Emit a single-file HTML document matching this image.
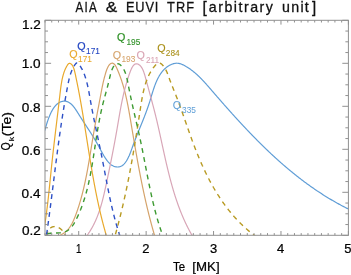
<!DOCTYPE html>
<html><head><meta charset="utf-8"><title>AIA &amp; EUVI TRF</title>
<style>html,body{margin:0;padding:0;background:#fff;overflow:hidden}svg{display:block}</style>
</head><body>
<svg xmlns="http://www.w3.org/2000/svg" width="351" height="275" viewBox="0 0 351 275">
<rect width="351" height="275" fill="#fff"/>
<defs><clipPath id="c"><rect x="45" y="20" width="303.5" height="215.2"/></clipPath></defs>
<g fill="none" stroke-linecap="butt" stroke-linejoin="round" clip-path="url(#c)">
<path d="M44.72,130.70 L44.81,130.38 L44.91,130.05 L45.01,129.70 L45.11,129.35 L45.22,128.98 L45.33,128.61 L45.44,128.22 L45.55,127.83 L45.67,127.43 L45.79,127.02 L45.91,126.60 L46.03,126.17 L46.16,125.74 L46.29,125.30 L46.42,124.85 L46.56,124.40 L46.70,123.94 L46.85,123.47 L46.99,123.01 L47.14,122.53 L47.30,122.06 L47.45,121.57 L47.61,121.09 L47.78,120.60 L47.95,120.12 L48.12,119.62 L48.29,119.13 L48.47,118.64 L48.66,118.14 L48.84,117.65 L49.03,117.15 L49.23,116.66 L49.43,116.16 L49.63,115.67 L49.84,115.18 L50.05,114.69 L50.27,114.20 L50.49,113.72 L50.71,113.24 L50.94,112.76 L51.18,112.29 L51.41,111.82 L51.66,111.36 L51.91,110.90 L52.16,110.44 L52.42,110.00 L52.68,109.55 L52.94,109.12 L53.22,108.69 L53.49,108.27 L53.78,107.86 L54.06,107.46 L54.36,107.06 L54.65,106.68 L54.96,106.30 L55.27,105.94 L55.58,105.58 L55.90,105.23 L56.22,104.90 L56.55,104.58 L56.89,104.27 L57.23,103.97 L57.58,103.68 L57.93,103.41 L58.29,103.15 L58.66,102.91 L59.03,102.68 L59.41,102.46 L59.79,102.26 L60.18,102.08 L60.57,101.91 L60.98,101.75 L61.38,101.62 L61.80,101.50 L62.22,101.40 L62.65,101.31 L63.08,101.25 L63.51,101.20 L63.95,101.17 L64.39,101.17 L64.83,101.18 L65.27,101.21 L65.70,101.26 L66.13,101.34 L66.56,101.43 L66.97,101.55 L67.38,101.69 L67.78,101.85 L68.18,102.02 L68.57,102.22 L68.96,102.43 L69.33,102.66 L69.71,102.91 L70.07,103.17 L70.44,103.45 L70.79,103.74 L71.15,104.04 L71.49,104.36 L71.84,104.70 L72.17,105.04 L72.51,105.39 L72.84,105.76 L73.16,106.14 L73.48,106.52 L73.80,106.91 L74.11,107.32 L74.42,107.73 L74.73,108.14 L75.03,108.56 L75.33,108.99 L75.62,109.42 L75.92,109.86 L76.21,110.30 L76.50,110.74 L76.78,111.18 L77.07,111.63 L77.35,112.08 L77.63,112.52 L77.91,112.97 L78.18,113.41 L78.46,113.86 L78.73,114.30 L79.00,114.73 L79.27,115.17 L79.54,115.60 L79.81,116.03 L80.08,116.45 L80.35,116.87 L80.61,117.29 L80.87,117.70 L81.14,118.12 L81.40,118.53 L81.66,118.94 L81.92,119.34 L82.18,119.74 L82.44,120.14 L82.70,120.54 L82.95,120.94 L83.21,121.33 L83.46,121.72 L83.72,122.11 L83.97,122.50 L84.22,122.89 L84.47,123.27 L84.72,123.66 L84.97,124.04 L85.22,124.42 L85.47,124.80 L85.72,125.18 L85.97,125.55 L86.22,125.93 L86.46,126.31 L86.71,126.68 L86.95,127.05 L87.20,127.43 L87.44,127.80 L87.68,128.17 L87.93,128.54 L88.17,128.91 L88.41,129.29 L88.65,129.66 L88.90,130.03 L89.14,130.40 L89.38,130.77 L89.62,131.14 L89.86,131.51 L90.10,131.89 L90.34,132.26 L90.58,132.63 L90.82,133.01 L91.05,133.38 L91.29,133.76 L91.53,134.13 L91.77,134.51 L92.01,134.89 L92.25,135.27 L92.48,135.65 L92.72,136.03 L92.96,136.42 L93.20,136.80 L93.44,137.19 L93.67,137.58 L93.91,137.97 L94.15,138.36 L94.39,138.76 L94.63,139.15 L94.87,139.55 L95.10,139.95 L95.34,140.36 L95.58,140.76 L95.82,141.17 L96.06,141.58 L96.30,142.00 L96.54,142.41 L96.78,142.83 L97.02,143.26 L97.26,143.68 L97.50,144.11 L97.74,144.54 L97.99,144.98 L98.23,145.42 L98.47,145.86 L98.71,146.31 L98.96,146.76 L99.20,147.21 L99.45,147.67 L99.69,148.13 L99.94,148.59 L100.19,149.05 L100.43,149.52 L100.68,149.99 L100.93,150.46 L101.18,150.93 L101.44,151.40 L101.69,151.87 L101.95,152.34 L102.20,152.81 L102.46,153.28 L102.72,153.74 L102.99,154.21 L103.25,154.67 L103.52,155.13 L103.78,155.59 L104.05,156.04 L104.33,156.49 L104.60,156.94 L104.88,157.38 L105.16,157.81 L105.44,158.24 L105.73,158.67 L106.02,159.09 L106.31,159.50 L106.60,159.90 L106.90,160.30 L107.20,160.69 L107.50,161.08 L107.81,161.45 L108.12,161.82 L108.43,162.17 L108.75,162.52 L109.07,162.85 L109.40,163.18 L109.72,163.50 L110.06,163.80 L110.39,164.10 L110.73,164.38 L111.08,164.65 L111.43,164.90 L111.78,165.15 L112.14,165.38 L112.50,165.59 L112.87,165.80 L113.24,165.98 L113.62,166.16 L114.00,166.32 L114.39,166.46 L114.78,166.58 L115.18,166.69 L115.58,166.79 L115.99,166.86 L116.40,166.92 L116.81,166.96 L117.21,166.99 L117.62,166.99 L118.03,166.98 L118.42,166.95 L118.82,166.90 L119.20,166.83 L119.58,166.75 L119.96,166.64 L120.32,166.52 L120.68,166.38 L121.03,166.23 L121.38,166.06 L121.72,165.87 L122.05,165.67 L122.38,165.45 L122.70,165.21 L123.02,164.97 L123.32,164.70 L123.63,164.43 L123.93,164.14 L124.22,163.84 L124.51,163.52 L124.79,163.19 L125.07,162.85 L125.34,162.50 L125.61,162.14 L125.87,161.77 L126.13,161.39 L126.39,161.00 L126.64,160.60 L126.89,160.18 L127.13,159.77 L127.37,159.34 L127.60,158.90 L127.83,158.46 L128.06,158.01 L128.29,157.55 L128.51,157.09 L128.73,156.62 L128.94,156.14 L129.16,155.66 L129.36,155.18 L129.57,154.69 L129.78,154.19 L129.98,153.70 L130.18,153.20 L130.38,152.69 L130.58,152.19 L130.77,151.68 L130.96,151.17 L131.15,150.66 L131.34,150.14 L131.53,149.63 L131.72,149.12 L131.91,148.60 L132.09,148.09 L132.28,147.58 L132.46,147.07 L132.64,146.56 L132.83,146.05 L133.01,145.55 L133.19,145.05 L133.37,144.55 L133.55,144.05 L133.74,143.56 L133.92,143.07 L134.10,142.58 L134.28,142.10 L134.46,141.62 L134.64,141.14 L134.82,140.66 L135.00,140.19 L135.18,139.72 L135.36,139.25 L135.54,138.78 L135.72,138.31 L135.90,137.85 L136.08,137.39 L136.26,136.93 L136.44,136.48 L136.62,136.02 L136.80,135.57 L136.97,135.12 L137.15,134.67 L137.33,134.23 L137.51,133.78 L137.68,133.34 L137.86,132.90 L138.04,132.46 L138.21,132.02 L138.39,131.58 L138.57,131.14 L138.74,130.71 L138.92,130.28 L139.09,129.85 L139.27,129.41 L139.44,128.99 L139.61,128.56 L139.79,128.13 L139.96,127.70 L140.13,127.28 L140.31,126.86 L140.48,126.43 L140.65,126.01 L140.82,125.59 L140.99,125.17 L141.16,124.75 L141.33,124.33 L141.50,123.91 L141.67,123.49 L141.84,123.07 L142.01,122.65 L142.18,122.24 L142.35,121.82 L142.52,121.40 L142.68,120.98 L142.85,120.57 L143.02,120.15 L143.18,119.73 L143.35,119.32 L143.52,118.90 L143.68,118.48 L143.84,118.07 L144.01,117.65 L144.17,117.23 L144.34,116.82 L144.50,116.40 L144.66,115.98 L144.82,115.56 L144.98,115.14 L145.15,114.72 L145.31,114.30 L145.47,113.88 L145.63,113.45 L145.78,113.03 L145.94,112.61 L146.10,112.18 L146.26,111.76 L146.42,111.33 L146.57,110.90 L146.73,110.47 L146.88,110.04 L147.04,109.61 L147.19,109.18 L147.35,108.74 L147.50,108.31 L147.65,107.87 L147.81,107.43 L147.96,106.99 L148.11,106.55 L148.26,106.11 L148.41,105.66 L148.56,105.22 L148.71,104.77 L148.86,104.32 L149.00,103.87 L149.15,103.41 L149.30,102.96 L149.44,102.50 L149.59,102.04 L149.73,101.57 L149.88,101.11 L150.02,100.64 L150.17,100.18 L150.31,99.71 L150.45,99.24 L150.60,98.76 L150.74,98.29 L150.88,97.81 L151.03,97.34 L151.17,96.86 L151.31,96.38 L151.46,95.90 L151.60,95.42 L151.75,94.94 L151.89,94.46 L152.04,93.98 L152.19,93.50 L152.34,93.02 L152.48,92.54 L152.63,92.05 L152.79,91.57 L152.94,91.09 L153.09,90.61 L153.25,90.13 L153.40,89.65 L153.56,89.17 L153.72,88.69 L153.88,88.22 L154.05,87.74 L154.21,87.26 L154.38,86.79 L154.55,86.32 L154.72,85.85 L154.89,85.38 L155.07,84.91 L155.24,84.44 L155.42,83.98 L155.61,83.52 L155.79,83.06 L155.98,82.60 L156.17,82.14 L156.36,81.69 L156.56,81.24 L156.76,80.79 L156.96,80.34 L157.16,79.90 L157.37,79.46 L157.58,79.03 L157.80,78.59 L158.02,78.16 L158.24,77.74 L158.46,77.31 L158.69,76.89 L158.93,76.48 L159.16,76.06 L159.40,75.66 L159.65,75.25 L159.90,74.85 L160.15,74.46 L160.40,74.07 L160.67,73.68 L160.93,73.30 L161.20,72.92 L161.48,72.55 L161.75,72.18 L162.04,71.81 L162.33,71.46 L162.62,71.10 L162.92,70.76 L163.22,70.41 L163.53,70.08 L163.84,69.75 L164.16,69.42 L164.49,69.10 L164.82,68.79 L165.15,68.48 L165.49,68.18 L165.84,67.89 L166.19,67.60 L166.55,67.32 L166.91,67.04 L167.28,66.77 L167.66,66.51 L168.04,66.26 L168.43,66.01 L168.82,65.77 L169.22,65.54 L169.63,65.31 L170.05,65.09 L170.47,64.88 L170.89,64.68 L171.32,64.49 L171.76,64.31 L172.20,64.14 L172.64,63.98 L173.09,63.83 L173.54,63.70 L174.00,63.58 L174.45,63.48 L174.91,63.39 L175.37,63.32 L175.83,63.27 L176.29,63.24 L176.75,63.22 L177.21,63.23 L177.67,63.25 L178.13,63.30 L178.58,63.36 L179.04,63.44 L179.49,63.55 L179.95,63.66 L180.40,63.80 L180.85,63.94 L181.29,64.10 L181.74,64.28 L182.18,64.46 L182.62,64.66 L183.06,64.86 L183.50,65.07 L183.93,65.29 L184.36,65.52 L184.79,65.76 L185.21,65.99 L185.64,66.23 L186.05,66.48 L186.47,66.72 L186.88,66.98 L187.29,67.23 L187.70,67.48 L188.11,67.74 L188.51,68.01 L188.91,68.27 L189.30,68.54 L189.70,68.81 L190.09,69.08 L190.48,69.36 L190.86,69.64 L191.25,69.92 L191.63,70.20 L192.01,70.49 L192.38,70.78 L192.76,71.07 L193.13,71.36 L193.50,71.66 L193.87,71.96 L194.23,72.26 L194.60,72.56 L194.96,72.86 L195.32,73.17 L195.67,73.48 L196.03,73.79 L196.38,74.10 L196.73,74.42 L197.08,74.74 L197.43,75.06 L197.78,75.38 L198.12,75.70 L198.47,76.02 L198.81,76.35 L199.15,76.68 L199.48,77.01 L199.82,77.34 L200.16,77.67 L200.49,78.00 L200.82,78.34 L201.15,78.68 L201.48,79.01 L201.81,79.35 L202.14,79.69 L202.47,80.04 L202.79,80.38 L203.12,80.72 L203.44,81.07 L203.76,81.42 L204.08,81.76 L204.40,82.11 L204.72,82.46 L205.04,82.81 L205.36,83.16 L205.67,83.52 L205.99,83.87 L206.31,84.22 L206.62,84.58 L206.94,84.93 L207.25,85.29 L207.56,85.65 L207.88,86.00 L208.19,86.36 L208.50,86.72 L208.81,87.08 L209.12,87.43 L209.44,87.79 L209.75,88.15 L210.06,88.51 L210.37,88.87 L210.68,89.23 L210.99,89.59 L211.30,89.95 L211.61,90.31 L211.92,90.67 L212.23,91.03 L212.54,91.39 L212.85,91.75 L213.17,92.11 L213.48,92.47 L213.79,92.83 L214.10,93.19 L214.41,93.55 L214.72,93.91 L215.03,94.27 L215.35,94.63 L215.66,94.99 L215.97,95.35 L216.28,95.71 L216.59,96.07 L216.91,96.43 L217.22,96.79 L217.53,97.15 L217.85,97.50 L218.16,97.86 L218.47,98.22 L218.78,98.58 L219.10,98.94 L219.41,99.30 L219.72,99.66 L220.04,100.02 L220.35,100.38 L220.67,100.73 L220.98,101.09 L221.29,101.45 L221.61,101.81 L221.92,102.17 L222.24,102.53 L222.55,102.88 L222.87,103.24 L223.18,103.60 L223.50,103.96 L223.81,104.32 L224.13,104.67 L224.44,105.03 L224.76,105.39 L225.07,105.75 L225.39,106.10 L225.70,106.46 L226.02,106.82 L226.34,107.17 L226.65,107.53 L226.97,107.89 L227.29,108.24 L227.60,108.60 L227.92,108.96 L228.24,109.31 L228.55,109.67 L228.87,110.02 L229.19,110.38 L229.51,110.74 L229.82,111.09 L230.14,111.45 L230.46,111.80 L230.78,112.16 L231.10,112.51 L231.42,112.87 L231.74,113.22 L232.05,113.58 L232.37,113.93 L232.69,114.29 L233.01,114.64 L233.33,114.99 L233.65,115.35 L233.97,115.70 L234.29,116.06 L234.61,116.41 L234.93,116.76 L235.25,117.12 L235.58,117.47 L235.90,117.82 L236.22,118.17 L236.54,118.53 L236.86,118.88 L237.18,119.23 L237.51,119.58 L237.83,119.93 L238.15,120.29 L238.47,120.64 L238.80,120.99 L239.12,121.34 L239.44,121.69 L239.76,122.04 L240.09,122.39 L240.41,122.74 L240.74,123.09 L241.06,123.44 L241.38,123.79 L241.71,124.14 L242.03,124.49 L242.36,124.84 L242.68,125.19 L243.01,125.54 L243.34,125.88 L243.66,126.23 L243.99,126.58 L244.31,126.93 L244.64,127.28 L244.97,127.62 L245.29,127.97 L245.62,128.32 L245.95,128.66 L246.28,129.01 L246.60,129.36 L246.93,129.70 L247.26,130.05 L247.59,130.40 L247.92,130.74 L248.25,131.09 L248.57,131.43 L248.90,131.78 L249.23,132.12 L249.56,132.46 L249.89,132.81 L250.22,133.15 L250.55,133.49 L250.89,133.84 L251.22,134.18 L251.55,134.52 L251.88,134.87 L252.21,135.21 L252.54,135.55 L252.87,135.89 L253.21,136.23 L253.54,136.57 L253.87,136.91 L254.21,137.26 L254.54,137.60 L254.87,137.94 L255.21,138.28 L255.54,138.61 L255.87,138.95 L256.21,139.29 L256.54,139.63 L256.88,139.97 L257.22,140.31 L257.55,140.65 L257.89,140.98 L258.22,141.32 L258.56,141.66 L258.90,141.99 L259.23,142.33 L259.57,142.67 L259.91,143.00 L260.25,143.34 L260.58,143.67 L260.92,144.01 L261.26,144.34 L261.60,144.68 L261.94,145.01 L262.28,145.34 L262.62,145.68 L262.96,146.01 L263.30,146.34 L263.64,146.67 L263.98,147.01 L264.32,147.34 L264.66,147.67 L265.00,148.00 L265.35,148.33 L265.69,148.66 L266.03,148.99 L266.37,149.32 L266.72,149.65 L267.06,149.98 L267.40,150.31 L267.75,150.63 L268.09,150.96 L268.44,151.29 L268.78,151.62 L269.13,151.94 L269.47,152.27 L269.82,152.60 L270.16,152.92 L270.51,153.25 L270.86,153.57 L271.20,153.90 L271.55,154.22 L271.90,154.55 L272.25,154.87 L272.59,155.19 L272.94,155.52 L273.29,155.84 L273.64,156.16 L273.99,156.48 L274.34,156.80 L274.69,157.12 L275.04,157.44 L275.39,157.76 L275.74,158.08 L276.09,158.40 L276.45,158.72 L276.80,159.04 L277.15,159.36 L277.50,159.68 L277.86,159.99 L278.21,160.31 L278.56,160.63 L278.92,160.94 L279.27,161.26 L279.63,161.58 L279.98,161.89 L280.34,162.21 L280.69,162.52 L281.05,162.83 L281.40,163.15 L281.76,163.46 L282.12,163.77 L282.48,164.08 L282.83,164.40 L283.19,164.71 L283.55,165.02 L283.91,165.33 L284.27,165.64 L284.63,165.95 L284.99,166.26 L285.35,166.57 L285.71,166.87 L286.07,167.18 L286.43,167.49 L286.79,167.80 L287.15,168.10 L287.52,168.41 L287.88,168.71 L288.24,169.02 L288.61,169.32 L288.97,169.63 L289.33,169.93 L289.70,170.23 L290.06,170.54 L290.43,170.84 L290.79,171.14 L291.16,171.44 L291.53,171.74 L291.89,172.04 L292.26,172.34 L292.63,172.64 L293.00,172.94 L293.36,173.24 L293.73,173.54 L294.10,173.84 L294.47,174.13 L294.84,174.43 L295.21,174.73 L295.58,175.02 L295.95,175.32 L296.32,175.61 L296.70,175.90 L297.07,176.20 L297.44,176.49 L297.81,176.78 L298.19,177.08 L298.56,177.37 L298.93,177.66 L299.31,177.95 L299.68,178.24 L300.06,178.53 L300.43,178.82 L300.81,179.11 L301.19,179.39 L301.56,179.68 L301.94,179.97 L302.32,180.26 L302.70,180.54 L303.08,180.83 L303.45,181.11 L303.83,181.40 L304.21,181.68 L304.59,181.96 L304.97,182.25 L305.36,182.53 L305.74,182.81 L306.12,183.09 L306.50,183.37 L306.88,183.65 L307.27,183.93 L307.65,184.21 L308.03,184.49 L308.42,184.77 L308.80,185.04 L309.19,185.32 L309.58,185.60 L309.96,185.87 L310.35,186.15 L310.73,186.42 L311.12,186.69 L311.51,186.97 L311.90,187.24 L312.29,187.51 L312.68,187.78 L313.07,188.06 L313.46,188.33 L313.85,188.60 L314.24,188.87 L314.63,189.13 L315.02,189.40 L315.41,189.67 L315.81,189.94 L316.20,190.20 L316.59,190.47 L316.99,190.73 L317.38,191.00 L317.78,191.26 L318.17,191.53 L318.57,191.79 L318.96,192.05 L319.36,192.31 L319.76,192.57 L320.16,192.83 L320.55,193.09 L320.95,193.35 L321.35,193.61 L321.75,193.87 L322.15,194.13 L322.55,194.38 L322.95,194.64 L323.35,194.89 L323.76,195.15 L324.16,195.40 L324.56,195.66 L324.97,195.91 L325.37,196.16 L325.77,196.41 L326.18,196.66 L326.58,196.91 L326.99,197.16 L327.40,197.41 L327.80,197.66 L328.21,197.91 L328.62,198.16 L329.03,198.40 L329.43,198.65 L329.84,198.89 L330.25,199.14 L330.66,199.38 L331.07,199.62 L331.49,199.87 L331.90,200.11 L332.31,200.35 L332.72,200.59 L333.14,200.83 L333.55,201.07 L333.96,201.31 L334.38,201.55 L334.79,201.78 L335.21,202.02 L335.62,202.25 L336.04,202.49 L336.46,202.72 L336.88,202.96 L337.29,203.19 L337.71,203.42 L338.13,203.65 L338.55,203.89 L338.97,204.12 L339.39,204.35 L339.81,204.57 L340.24,204.80 L340.66,205.03 L341.08,205.26 L341.51,205.48 L341.93,205.71 L342.35,205.93 L342.78,206.16 L343.20,206.38 L343.63,206.60 L344.06,206.82 L344.48,207.04 L344.91,207.26 L345.34,207.48 L345.77,207.70 L346.20,207.92 L346.63,208.14 L347.06,208.36 L347.49,208.57 L347.92,208.79 L348.35,209.00 L348.78,209.21 L349.22,209.43" stroke="#5f9dd6" stroke-width="1.2"/>
<path d="M56.15,236.24 L56.88,236.08 L57.60,235.90 L58.29,235.70 L58.97,235.48 L59.63,235.25 L60.27,235.00 L60.90,234.73 L61.51,234.44 L62.10,234.13 L62.67,233.81 L63.23,233.48 L63.78,233.13 L64.31,232.76 L64.82,232.38 L65.33,231.98 L65.81,231.58 L66.29,231.15 L66.75,230.72 L67.19,230.27 L67.63,229.81 L68.05,229.34 L68.46,228.86 L68.86,228.37 L69.25,227.87 L69.63,227.35 L70.00,226.83 L70.36,226.30 L70.70,225.76 L71.04,225.21 L71.37,224.65 L71.69,224.09 L72.01,223.52 L72.31,222.94 L72.61,222.36 L72.90,221.77 L73.18,221.17 L73.46,220.57 L73.73,219.97 L73.99,219.36 L74.25,218.75 L74.51,218.13 L74.76,217.51 L75.00,216.89 L75.24,216.27 L75.48,215.65 L75.72,215.02 L75.95,214.39 L76.18,213.76 L76.40,213.14 L76.62,212.51 L76.85,211.88 L77.07,211.25 L77.28,210.62 L77.50,210.00 L77.71,209.37 L77.92,208.74 L78.13,208.11 L78.33,207.48 L78.54,206.85 L78.74,206.22 L78.94,205.59 L79.13,204.96 L79.33,204.33 L79.52,203.70 L79.71,203.07 L79.90,202.44 L80.09,201.81 L80.28,201.18 L80.46,200.55 L80.64,199.92 L80.82,199.29 L81.00,198.65 L81.17,198.02 L81.35,197.39 L81.52,196.76 L81.69,196.13 L81.86,195.49 L82.03,194.86 L82.19,194.23 L82.36,193.59 L82.52,192.96 L82.68,192.33 L82.84,191.69 L83.00,191.06 L83.15,190.43 L83.31,189.79 L83.46,189.16 L83.61,188.52 L83.76,187.89 L83.91,187.25 L84.06,186.62 L84.20,185.98 L84.35,185.35 L84.49,184.71 L84.63,184.07 L84.77,183.44 L84.91,182.80 L85.05,182.16 L85.19,181.53 L85.32,180.89 L85.46,180.25 L85.59,179.62 L85.72,178.98 L85.85,178.34 L85.98,177.70 L86.11,177.06 L86.24,176.42 L86.37,175.79 L86.49,175.15 L86.62,174.51 L86.74,173.87 L86.86,173.23 L86.99,172.59 L87.11,171.95 L87.23,171.31 L87.35,170.67 L87.47,170.03 L87.58,169.38 L87.70,168.74 L87.82,168.10 L87.93,167.46 L88.05,166.82 L88.16,166.18 L88.28,165.53 L88.39,164.89 L88.50,164.25 L88.61,163.60 L88.73,162.96 L88.84,162.32 L88.95,161.67 L89.06,161.03 L89.17,160.38 L89.27,159.74 L89.38,159.09 L89.49,158.45 L89.60,157.80 L89.71,157.16 L89.81,156.51 L89.92,155.87 L90.03,155.22 L90.13,154.57 L90.24,153.93 L90.35,153.28 L90.45,152.63 L90.56,151.98 L90.66,151.34 L90.77,150.69 L90.87,150.04 L90.98,149.39 L91.09,148.74 L91.19,148.09 L91.30,147.44 L91.40,146.79 L91.51,146.14 L91.61,145.49 L91.72,144.84 L91.82,144.19 L91.93,143.54 L92.03,142.89 L92.14,142.24 L92.25,141.58 L92.35,140.93 L92.46,140.28 L92.57,139.63 L92.67,138.97 L92.78,138.32 L92.89,137.67 L93.00,137.01 L93.11,136.36 L93.22,135.70 L93.33,135.05 L93.44,134.39 L93.55,133.74 L93.66,133.08 L93.77,132.43 L93.88,131.77 L94.00,131.11 L94.11,130.46 L94.22,129.80 L94.34,129.14 L94.45,128.48 L94.57,127.83 L94.69,127.17 L94.80,126.51 L94.92,125.85 L95.04,125.19 L95.16,124.54 L95.28,123.88 L95.40,123.22 L95.52,122.56 L95.64,121.90 L95.76,121.25 L95.88,120.59 L96.00,119.93 L96.12,119.28 L96.24,118.62 L96.37,117.96 L96.49,117.31 L96.61,116.65 L96.73,116.00 L96.86,115.35 L96.98,114.69 L97.10,114.04 L97.22,113.39 L97.35,112.74 L97.47,112.09 L97.59,111.44 L97.71,110.80 L97.84,110.15 L97.96,109.50 L98.08,108.86 L98.20,108.21 L98.33,107.57 L98.45,106.93 L98.57,106.29 L98.69,105.65 L98.81,105.02 L98.93,104.38 L99.05,103.74 L99.17,103.11 L99.29,102.48 L99.41,101.85 L99.53,101.22 L99.65,100.60 L99.77,99.97 L99.89,99.35 L100.00,98.73 L100.12,98.11 L100.23,97.49 L100.35,96.87 L100.46,96.26 L100.58,95.65 L100.69,95.04 L100.80,94.43 L100.92,93.82 L101.03,93.22 L101.14,92.61 L101.25,92.01 L101.36,91.40 L101.48,90.80 L101.59,90.19 L101.71,89.59 L101.83,88.98 L101.94,88.37 L102.07,87.75 L102.19,87.14 L102.31,86.52 L102.44,85.89 L102.57,85.27 L102.71,84.63 L102.85,84.00 L102.99,83.35 L103.13,82.70 L103.28,82.05 L103.44,81.38 L103.60,80.71 L103.76,80.04 L103.93,79.35 L104.10,78.66 L104.28,77.95 L104.47,77.24 L104.66,76.52 L104.86,75.79 L105.07,75.04 L105.28,74.29 L105.50,73.53 L105.73,72.77 L105.96,72.02 L106.21,71.27 L106.46,70.53 L106.72,69.80 L107.00,69.09 L107.28,68.41 L107.58,67.74 L107.89,67.11 L108.21,66.51 L108.54,65.95 L108.89,65.43 L109.25,64.95 L109.63,64.52 L110.02,64.14 L110.42,63.82 L110.84,63.56 L111.28,63.36 L111.72,63.23 L112.15,63.18 L112.57,63.20 L112.98,63.30 L113.37,63.47 L113.75,63.71 L114.12,64.00 L114.47,64.35 L114.81,64.75 L115.14,65.19 L115.46,65.68 L115.77,66.20 L116.08,66.75 L116.37,67.32 L116.66,67.92 L116.94,68.53 L117.22,69.15 L117.49,69.78 L117.76,70.41 L118.02,71.05 L118.28,71.68 L118.54,72.31 L118.79,72.94 L119.04,73.57 L119.29,74.21 L119.53,74.84 L119.77,75.47 L120.00,76.10 L120.24,76.74 L120.47,77.37 L120.69,78.01 L120.91,78.64 L121.13,79.27 L121.35,79.91 L121.56,80.54 L121.77,81.18 L121.97,81.81 L122.18,82.45 L122.38,83.09 L122.58,83.72 L122.77,84.36 L122.96,85.00 L123.15,85.63 L123.34,86.27 L123.52,86.91 L123.70,87.54 L123.88,88.18 L124.06,88.82 L124.23,89.46 L124.40,90.09 L124.57,90.73 L124.74,91.37 L124.90,92.01 L125.06,92.65 L125.22,93.29 L125.38,93.93 L125.53,94.57 L125.69,95.21 L125.84,95.85 L125.99,96.49 L126.13,97.13 L126.28,97.77 L126.42,98.41 L126.57,99.05 L126.71,99.69 L126.84,100.33 L126.98,100.97 L127.12,101.61 L127.25,102.25 L127.38,102.90 L127.51,103.54 L127.64,104.18 L127.77,104.82 L127.90,105.46 L128.02,106.11 L128.14,106.75 L128.27,107.39 L128.39,108.03 L128.51,108.68 L128.63,109.32 L128.75,109.96 L128.87,110.61 L128.98,111.25 L129.10,111.89 L129.21,112.54 L129.33,113.18 L129.44,113.82 L129.55,114.47 L129.67,115.11 L129.78,115.76 L129.89,116.40 L130.00,117.05 L130.11,117.69 L130.22,118.33 L130.33,118.98 L130.44,119.62 L130.55,120.27 L130.65,120.91 L130.76,121.56 L130.87,122.20 L130.98,122.85 L131.09,123.49 L131.20,124.14 L131.30,124.78 L131.41,125.43 L131.52,126.08 L131.63,126.72 L131.74,127.37 L131.85,128.01 L131.95,128.66 L132.06,129.30 L132.17,129.95 L132.28,130.60 L132.39,131.24 L132.50,131.89 L132.61,132.53 L132.71,133.18 L132.82,133.83 L132.93,134.47 L133.04,135.12 L133.15,135.76 L133.26,136.41 L133.37,137.06 L133.48,137.70 L133.59,138.35 L133.70,139.00 L133.81,139.64 L133.92,140.29 L134.03,140.94 L134.14,141.58 L134.25,142.23 L134.36,142.87 L134.47,143.52 L134.59,144.17 L134.70,144.81 L134.81,145.46 L134.92,146.11 L135.03,146.75 L135.14,147.40 L135.26,148.05 L135.37,148.69 L135.48,149.34 L135.60,149.99 L135.71,150.63 L135.82,151.28 L135.94,151.93 L136.05,152.57 L136.16,153.22 L136.28,153.87 L136.39,154.51 L136.51,155.16 L136.62,155.81 L136.74,156.45 L136.85,157.10 L136.97,157.74 L137.09,158.39 L137.20,159.04 L137.32,159.68 L137.44,160.33 L137.55,160.98 L137.67,161.62 L137.79,162.27 L137.91,162.91 L138.03,163.56 L138.14,164.21 L138.26,164.85 L138.38,165.50 L138.50,166.14 L138.62,166.79 L138.74,167.44 L138.87,168.08 L138.99,168.73 L139.11,169.37 L139.23,170.02 L139.35,170.66 L139.48,171.31 L139.60,171.95 L139.72,172.60 L139.85,173.24 L139.97,173.89 L140.10,174.53 L140.22,175.18 L140.35,175.82 L140.47,176.47 L140.60,177.11 L140.73,177.76 L140.85,178.40 L140.98,179.05 L141.11,179.69 L141.24,180.33 L141.37,180.98 L141.50,181.62 L141.63,182.27 L141.76,182.91 L141.89,183.55 L142.02,184.20 L142.15,184.84 L142.28,185.48 L142.41,186.13 L142.55,186.77 L142.68,187.41 L142.82,188.05 L142.95,188.70 L143.09,189.34 L143.22,189.98 L143.36,190.62 L143.49,191.27 L143.63,191.91 L143.77,192.55 L143.91,193.19 L144.05,193.83 L144.19,194.48 L144.33,195.12 L144.47,195.76 L144.61,196.40 L144.75,197.04 L144.89,197.68 L145.04,198.32 L145.18,198.96 L145.32,199.60 L145.47,200.24 L145.61,200.88 L145.76,201.52 L145.91,202.16 L146.05,202.80 L146.20,203.44 L146.35,204.08 L146.50,204.72 L146.65,205.36 L146.80,206.00 L146.95,206.63 L147.10,207.27 L147.25,207.91 L147.41,208.55 L147.56,209.19 L147.71,209.82 L147.87,210.46 L148.02,211.10 L148.18,211.73 L148.34,212.37 L148.50,213.01 L148.65,213.64 L148.81,214.28 L148.97,214.92 L149.13,215.55 L149.29,216.19 L149.46,216.82 L149.62,217.46 L149.78,218.09 L149.95,218.73 L150.11,219.36 L150.28,220.00 L150.44,220.63 L150.61,221.26 L150.78,221.90 L150.95,222.53 L151.11,223.16 L151.28,223.80 L151.46,224.43 L151.63,225.06 L151.80,225.69 L151.97,226.33 L152.15,226.96 L152.32,227.59 L152.50,228.22 L152.67,228.85 L152.85,229.48 L153.03,230.11 L153.21,230.74 L153.39,231.37 L153.57,232.00 L153.75,232.63 L153.93,233.26 L154.12,233.89 L154.30,234.52 L154.48,235.15 L154.67,235.78 L154.86,236.40 L155.04,237.03" stroke="#d5a36b" stroke-width="1.2"/>
<path d="M86.24,236.52 L86.65,235.97 L87.06,235.41 L87.47,234.86 L87.86,234.30 L88.26,233.74 L88.64,233.17 L89.02,232.61 L89.40,232.04 L89.76,231.47 L90.13,230.90 L90.48,230.33 L90.83,229.75 L91.18,229.17 L91.52,228.59 L91.85,228.01 L92.18,227.43 L92.51,226.84 L92.82,226.26 L93.14,225.67 L93.45,225.08 L93.75,224.48 L94.05,223.89 L94.34,223.29 L94.63,222.70 L94.92,222.10 L95.20,221.50 L95.47,220.89 L95.74,220.29 L96.01,219.68 L96.27,219.08 L96.53,218.47 L96.78,217.86 L97.03,217.24 L97.28,216.63 L97.52,216.02 L97.76,215.40 L98.00,214.78 L98.23,214.16 L98.45,213.54 L98.68,212.92 L98.90,212.30 L99.11,211.68 L99.33,211.05 L99.54,210.42 L99.74,209.80 L99.95,209.17 L100.15,208.54 L100.35,207.91 L100.54,207.27 L100.73,206.64 L100.92,206.01 L101.11,205.37 L101.29,204.74 L101.48,204.10 L101.66,203.46 L101.83,202.82 L102.01,202.18 L102.18,201.54 L102.35,200.90 L102.52,200.26 L102.68,199.61 L102.85,198.97 L103.01,198.32 L103.17,197.68 L103.33,197.03 L103.49,196.39 L103.64,195.74 L103.80,195.09 L103.95,194.44 L104.10,193.79 L104.25,193.14 L104.40,192.49 L104.55,191.84 L104.69,191.19 L104.84,190.54 L104.98,189.89 L105.13,189.24 L105.27,188.58 L105.41,187.93 L105.56,187.28 L105.70,186.62 L105.84,185.97 L105.98,185.31 L106.12,184.66 L106.26,184.00 L106.40,183.35 L106.54,182.69 L106.68,182.04 L106.82,181.38 L106.96,180.73 L107.10,180.07 L107.23,179.42 L107.37,178.76 L107.51,178.11 L107.65,177.45 L107.79,176.79 L107.92,176.14 L108.06,175.48 L108.20,174.82 L108.34,174.17 L108.47,173.51 L108.61,172.85 L108.75,172.20 L108.88,171.54 L109.02,170.88 L109.15,170.22 L109.29,169.57 L109.43,168.91 L109.56,168.25 L109.69,167.59 L109.83,166.94 L109.96,166.28 L110.10,165.62 L110.23,164.96 L110.36,164.31 L110.50,163.65 L110.63,162.99 L110.76,162.33 L110.89,161.68 L111.03,161.02 L111.16,160.36 L111.29,159.70 L111.42,159.05 L111.55,158.39 L111.68,157.73 L111.81,157.07 L111.94,156.42 L112.07,155.76 L112.20,155.10 L112.33,154.44 L112.46,153.79 L112.59,153.13 L112.71,152.47 L112.84,151.81 L112.97,151.16 L113.09,150.50 L113.22,149.84 L113.35,149.19 L113.47,148.53 L113.60,147.87 L113.72,147.22 L113.85,146.56 L113.97,145.91 L114.10,145.25 L114.22,144.59 L114.34,143.94 L114.46,143.28 L114.59,142.63 L114.71,141.97 L114.83,141.32 L114.95,140.66 L115.07,140.01 L115.19,139.35 L115.31,138.70 L115.43,138.04 L115.55,137.39 L115.67,136.74 L115.79,136.08 L115.90,135.43 L116.02,134.78 L116.14,134.12 L116.25,133.47 L116.37,132.82 L116.49,132.17 L116.60,131.51 L116.72,130.86 L116.83,130.21 L116.94,129.56 L117.06,128.91 L117.17,128.26 L117.28,127.61 L117.39,126.96 L117.50,126.31 L117.62,125.66 L117.73,125.01 L117.84,124.36 L117.95,123.71 L118.06,123.06 L118.17,122.41 L118.28,121.76 L118.39,121.11 L118.50,120.47 L118.61,119.82 L118.72,119.17 L118.83,118.52 L118.94,117.87 L119.05,117.22 L119.16,116.58 L119.27,115.93 L119.38,115.28 L119.50,114.63 L119.61,113.98 L119.72,113.33 L119.84,112.69 L119.95,112.04 L120.07,111.39 L120.19,110.74 L120.30,110.09 L120.42,109.44 L120.54,108.79 L120.66,108.14 L120.78,107.49 L120.90,106.84 L121.03,106.19 L121.15,105.54 L121.28,104.89 L121.41,104.24 L121.53,103.58 L121.66,102.93 L121.80,102.28 L121.93,101.63 L122.06,100.97 L122.20,100.32 L122.34,99.67 L122.48,99.01 L122.62,98.36 L122.76,97.70 L122.91,97.04 L123.05,96.39 L123.20,95.73 L123.35,95.07 L123.50,94.41 L123.66,93.75 L123.81,93.09 L123.97,92.43 L124.13,91.77 L124.30,91.11 L124.46,90.45 L124.63,89.79 L124.80,89.12 L124.98,88.46 L125.15,87.79 L125.33,87.13 L125.51,86.46 L125.69,85.79 L125.88,85.12 L126.07,84.46 L126.26,83.79 L126.46,83.11 L126.65,82.44 L126.85,81.77 L127.06,81.10 L127.26,80.42 L127.47,79.75 L127.69,79.07 L127.90,78.39 L128.12,77.71 L128.35,77.04 L128.57,76.35 L128.80,75.67 L129.03,74.99 L129.27,74.31 L129.51,73.62 L129.76,72.94 L130.00,72.25 L130.26,71.58 L130.51,70.91 L130.78,70.25 L131.05,69.61 L131.33,68.98 L131.61,68.38 L131.91,67.79 L132.21,67.24 L132.52,66.72 L132.84,66.22 L133.17,65.77 L133.51,65.35 L133.86,64.98 L134.23,64.65 L134.61,64.37 L135.00,64.14 L135.40,63.96 L135.82,63.85 L136.25,63.79 L136.70,63.80 L137.16,63.86 L137.63,63.99 L138.09,64.17 L138.55,64.39 L139.00,64.66 L139.44,64.97 L139.86,65.32 L140.25,65.70 L140.64,66.12 L141.00,66.57 L141.35,67.04 L141.68,67.55 L142.00,68.08 L142.31,68.64 L142.60,69.22 L142.88,69.82 L143.15,70.44 L143.41,71.08 L143.66,71.74 L143.90,72.41 L144.13,73.09 L144.35,73.78 L144.57,74.48 L144.78,75.19 L144.99,75.91 L145.19,76.63 L145.39,77.35 L145.59,78.07 L145.78,78.80 L145.98,79.51 L146.17,80.23 L146.36,80.94 L146.55,81.65 L146.75,82.35 L146.94,83.06 L147.13,83.75 L147.31,84.45 L147.50,85.14 L147.69,85.83 L147.88,86.51 L148.06,87.20 L148.25,87.88 L148.43,88.55 L148.62,89.23 L148.80,89.90 L148.98,90.57 L149.17,91.24 L149.35,91.90 L149.53,92.56 L149.71,93.22 L149.89,93.88 L150.07,94.53 L150.25,95.19 L150.42,95.84 L150.60,96.49 L150.78,97.14 L150.95,97.78 L151.13,98.43 L151.30,99.07 L151.47,99.71 L151.64,100.36 L151.82,100.99 L151.99,101.63 L152.16,102.27 L152.33,102.91 L152.50,103.54 L152.67,104.17 L152.83,104.81 L153.00,105.44 L153.17,106.07 L153.33,106.70 L153.50,107.33 L153.66,107.96 L153.83,108.59 L153.99,109.22 L154.15,109.85 L154.31,110.48 L154.47,111.11 L154.63,111.74 L154.79,112.37 L154.95,113.00 L155.11,113.63 L155.27,114.26 L155.42,114.89 L155.58,115.52 L155.74,116.15 L155.89,116.78 L156.04,117.42 L156.20,118.05 L156.35,118.68 L156.50,119.32 L156.65,119.96 L156.81,120.59 L156.96,121.23 L157.11,121.87 L157.26,122.50 L157.40,123.14 L157.55,123.78 L157.70,124.42 L157.85,125.06 L157.99,125.70 L158.14,126.34 L158.29,126.98 L158.43,127.63 L158.58,128.27 L158.72,128.91 L158.87,129.56 L159.01,130.20 L159.16,130.85 L159.30,131.49 L159.44,132.14 L159.59,132.78 L159.73,133.43 L159.87,134.08 L160.02,134.72 L160.16,135.37 L160.30,136.02 L160.44,136.67 L160.58,137.32 L160.73,137.97 L160.87,138.61 L161.01,139.26 L161.15,139.91 L161.29,140.56 L161.43,141.22 L161.58,141.87 L161.72,142.52 L161.86,143.17 L162.00,143.82 L162.14,144.47 L162.28,145.12 L162.43,145.78 L162.57,146.43 L162.71,147.08 L162.85,147.73 L163.00,148.39 L163.14,149.04 L163.28,149.69 L163.42,150.35 L163.57,151.00 L163.71,151.65 L163.86,152.31 L164.00,152.96 L164.14,153.62 L164.29,154.27 L164.43,154.93 L164.58,155.58 L164.73,156.23 L164.87,156.89 L165.02,157.54 L165.17,158.20 L165.31,158.85 L165.46,159.51 L165.61,160.16 L165.76,160.81 L165.91,161.47 L166.06,162.12 L166.21,162.78 L166.36,163.43 L166.51,164.09 L166.67,164.74 L166.82,165.39 L166.97,166.05 L167.13,166.70 L167.28,167.35 L167.44,168.01 L167.59,168.66 L167.75,169.31 L167.91,169.97 L168.07,170.62 L168.23,171.27 L168.39,171.93 L168.55,172.58 L168.71,173.23 L168.87,173.88 L169.04,174.53 L169.20,175.18 L169.37,175.83 L169.53,176.49 L169.70,177.14 L169.87,177.79 L170.04,178.44 L170.21,179.08 L170.38,179.73 L170.55,180.38 L170.73,181.03 L170.90,181.68 L171.08,182.33 L171.25,182.97 L171.43,183.62 L171.61,184.27 L171.79,184.91 L171.97,185.56 L172.15,186.20 L172.34,186.85 L172.52,187.49 L172.71,188.14 L172.90,188.78 L173.08,189.42 L173.27,190.07 L173.47,190.71 L173.66,191.35 L173.85,191.99 L174.05,192.63 L174.24,193.27 L174.44,193.91 L174.64,194.55 L174.84,195.19 L175.04,195.82 L175.25,196.46 L175.45,197.10 L175.66,197.73 L175.87,198.37 L176.08,199.00 L176.29,199.64 L176.50,200.27 L176.72,200.90 L176.93,201.53 L177.15,202.17 L177.37,202.80 L177.59,203.43 L177.81,204.05 L178.04,204.68 L178.26,205.31 L178.49,205.94 L178.72,206.56 L178.95,207.19 L179.19,207.81 L179.42,208.44 L179.66,209.06 L179.90,209.68 L180.14,210.30 L180.38,210.92 L180.62,211.54 L180.87,212.16 L181.12,212.78 L181.37,213.39 L181.62,214.01 L181.87,214.63 L182.13,215.24 L182.39,215.85 L182.65,216.46 L182.91,217.08 L183.17,217.69 L183.44,218.30 L183.71,218.90 L183.98,219.51 L184.25,220.12 L184.53,220.72 L184.80,221.33 L185.08,221.93 L185.36,222.53 L185.65,223.14 L185.93,223.74 L186.22,224.33 L186.51,224.93 L186.80,225.53 L187.10,226.13 L187.39,226.72 L187.69,227.31 L188.00,227.91 L188.30,228.50 L188.61,229.09 L188.92,229.68 L189.23,230.27 L189.54,230.85 L189.86,231.44 L190.18,232.02 L190.50,232.60 L190.82,233.19 L191.15,233.77 L191.48,234.35 L191.81,234.92 L192.14,235.50 L192.48,236.08 L192.82,236.65" stroke="#d8a6b7" stroke-width="1.2"/>
<path d="M44.12,228.91 L44.24,228.23 L44.35,227.54 L44.46,226.86 L44.57,226.18 L44.68,225.49 L44.79,224.80 L44.89,224.12 L45.00,223.43 L45.10,222.74 L45.21,222.05 L45.31,221.36 L45.41,220.66 L45.51,219.97 L45.61,219.28 L45.71,218.58 L45.81,217.88 L45.91,217.19 L46.00,216.49 L46.10,215.79 L46.20,215.09 L46.29,214.39 L46.38,213.69 L46.48,212.98 L46.57,212.28 L46.66,211.58 L46.75,210.87 L46.84,210.17 L46.93,209.46 L47.01,208.76 L47.10,208.05 L47.19,207.34 L47.28,206.63 L47.36,205.92 L47.45,205.22 L47.53,204.51 L47.61,203.80 L47.70,203.08 L47.78,202.37 L47.86,201.66 L47.94,200.95 L48.02,200.24 L48.10,199.53 L48.18,198.81 L48.26,198.10 L48.34,197.38 L48.42,196.67 L48.50,195.96 L48.58,195.24 L48.66,194.53 L48.73,193.81 L48.81,193.10 L48.89,192.38 L48.96,191.67 L49.04,190.95 L49.11,190.24 L49.19,189.52 L49.26,188.81 L49.34,188.09 L49.41,187.37 L49.49,186.66 L49.56,185.94 L49.63,185.23 L49.71,184.51 L49.78,183.80 L49.85,183.08 L49.93,182.37 L50.00,181.65 L50.07,180.94 L50.14,180.22 L50.22,179.51 L50.29,178.79 L50.36,178.08 L50.44,177.37 L50.51,176.65 L50.58,175.94 L50.65,175.23 L50.73,174.52 L50.80,173.81 L50.87,173.09 L50.94,172.38 L51.02,171.67 L51.09,170.96 L51.16,170.25 L51.23,169.55 L51.31,168.84 L51.38,168.13 L51.45,167.42 L51.53,166.72 L51.60,166.01 L51.68,165.30 L51.75,164.60 L51.83,163.90 L51.90,163.19 L51.98,162.49 L52.05,161.79 L52.13,161.09 L52.20,160.39 L52.28,159.69 L52.36,158.99 L52.43,158.29 L52.51,157.59 L52.59,156.89 L52.66,156.19 L52.74,155.50 L52.82,154.80 L52.90,154.10 L52.97,153.41 L53.05,152.71 L53.13,152.02 L53.21,151.32 L53.29,150.63 L53.37,149.93 L53.45,149.24 L53.53,148.55 L53.61,147.85 L53.69,147.16 L53.77,146.47 L53.85,145.77 L53.93,145.08 L54.01,144.39 L54.09,143.69 L54.17,143.00 L54.25,142.31 L54.33,141.62 L54.41,140.92 L54.49,140.23 L54.57,139.54 L54.66,138.85 L54.74,138.15 L54.82,137.46 L54.90,136.77 L54.98,136.08 L55.07,135.38 L55.15,134.69 L55.23,134.00 L55.32,133.30 L55.40,132.61 L55.48,131.92 L55.56,131.22 L55.65,130.53 L55.73,129.83 L55.81,129.14 L55.90,128.44 L55.98,127.75 L56.07,127.05 L56.15,126.35 L56.23,125.66 L56.32,124.96 L56.40,124.26 L56.49,123.56 L56.57,122.86 L56.65,122.16 L56.74,121.46 L56.82,120.76 L56.91,120.06 L56.99,119.36 L57.08,118.66 L57.16,117.96 L57.25,117.25 L57.33,116.55 L57.42,115.84 L57.50,115.14 L57.59,114.43 L57.67,113.72 L57.76,113.02 L57.84,112.31 L57.93,111.60 L58.01,110.89 L58.10,110.18 L58.18,109.46 L58.27,108.75 L58.35,108.04 L58.44,107.32 L58.52,106.61 L58.61,105.89 L58.69,105.17 L58.78,104.45 L58.86,103.73 L58.95,103.01 L59.03,102.29 L59.12,101.56 L59.21,100.84 L59.29,100.12 L59.38,99.39 L59.46,98.66 L59.55,97.93 L59.63,97.20 L59.72,96.47 L59.80,95.74 L59.89,95.00 L59.97,94.27 L60.06,93.53 L60.14,92.79 L60.23,92.06 L60.32,91.32 L60.41,90.58 L60.50,89.84 L60.59,89.10 L60.68,88.37 L60.78,87.63 L60.88,86.90 L60.98,86.17 L61.09,85.44 L61.19,84.71 L61.31,83.98 L61.42,83.26 L61.54,82.54 L61.67,81.82 L61.80,81.11 L61.93,80.40 L62.07,79.69 L62.22,78.99 L62.37,78.30 L62.53,77.60 L62.69,76.92 L62.86,76.24 L63.04,75.56 L63.23,74.89 L63.42,74.23 L63.62,73.57 L63.83,72.92 L64.04,72.28 L64.27,71.64 L64.50,71.01 L64.74,70.39 L64.99,69.78 L65.26,69.18 L65.53,68.58 L65.81,68.00 L66.10,67.42 L66.40,66.85 L66.72,66.29 L67.04,65.75 L67.38,65.21 L67.73,64.69 L68.09,64.20 L68.48,63.79 L68.88,63.49 L69.32,63.33 L69.79,63.34 L70.27,63.49 L70.74,63.76 L71.20,64.10 L71.62,64.50 L72.01,64.95 L72.37,65.45 L72.71,66.00 L73.02,66.58 L73.31,67.21 L73.58,67.87 L73.84,68.56 L74.07,69.27 L74.29,70.01 L74.50,70.77 L74.69,71.54 L74.88,72.32 L75.05,73.11 L75.23,73.90 L75.40,74.69 L75.56,75.47 L75.73,76.25 L75.89,77.03 L76.06,77.80 L76.22,78.57 L76.38,79.33 L76.53,80.10 L76.69,80.85 L76.84,81.60 L77.00,82.35 L77.15,83.10 L77.30,83.84 L77.44,84.58 L77.59,85.32 L77.74,86.05 L77.88,86.78 L78.02,87.50 L78.16,88.23 L78.30,88.95 L78.44,89.67 L78.58,90.38 L78.72,91.09 L78.85,91.80 L78.99,92.51 L79.12,93.22 L79.25,93.92 L79.38,94.62 L79.51,95.32 L79.64,96.02 L79.77,96.72 L79.90,97.41 L80.02,98.11 L80.15,98.80 L80.27,99.49 L80.40,100.18 L80.52,100.87 L80.64,101.55 L80.76,102.24 L80.88,102.92 L81.00,103.61 L81.12,104.29 L81.24,104.97 L81.36,105.66 L81.48,106.34 L81.60,107.02 L81.71,107.70 L81.83,108.39 L81.94,109.07 L82.06,109.75 L82.18,110.43 L82.29,111.12 L82.40,111.80 L82.52,112.48 L82.63,113.17 L82.75,113.85 L82.86,114.54 L82.97,115.22 L83.09,115.91 L83.20,116.59 L83.31,117.28 L83.42,117.97 L83.54,118.66 L83.65,119.35 L83.76,120.04 L83.87,120.73 L83.98,121.42 L84.09,122.11 L84.21,122.80 L84.32,123.49 L84.43,124.18 L84.54,124.87 L84.65,125.57 L84.76,126.26 L84.87,126.95 L84.98,127.65 L85.09,128.34 L85.20,129.04 L85.31,129.73 L85.42,130.43 L85.53,131.12 L85.64,131.82 L85.75,132.51 L85.86,133.21 L85.97,133.91 L86.08,134.61 L86.19,135.30 L86.30,136.00 L86.41,136.70 L86.52,137.40 L86.63,138.10 L86.74,138.80 L86.85,139.50 L86.96,140.20 L87.07,140.90 L87.19,141.60 L87.30,142.30 L87.41,143.00 L87.52,143.70 L87.63,144.40 L87.74,145.11 L87.85,145.81 L87.96,146.51 L88.07,147.21 L88.19,147.91 L88.30,148.62 L88.41,149.32 L88.52,150.02 L88.63,150.73 L88.75,151.43 L88.86,152.13 L88.97,152.84 L89.09,153.54 L89.20,154.25 L89.31,154.95 L89.43,155.65 L89.54,156.36 L89.66,157.06 L89.77,157.77 L89.88,158.47 L90.00,159.18 L90.12,159.88 L90.23,160.59 L90.35,161.29 L90.46,162.00 L90.58,162.70 L90.70,163.41 L90.82,164.11 L90.93,164.82 L91.05,165.52 L91.17,166.23 L91.29,166.93 L91.41,167.64 L91.53,168.34 L91.65,169.05 L91.77,169.75 L91.89,170.46 L92.01,171.16 L92.14,171.87 L92.26,172.57 L92.38,173.28 L92.50,173.98 L92.63,174.69 L92.75,175.39 L92.88,176.10 L93.00,176.80 L93.13,177.50 L93.25,178.21 L93.38,178.91 L93.51,179.62 L93.64,180.32 L93.77,181.02 L93.89,181.73 L94.02,182.43 L94.15,183.13 L94.28,183.84 L94.42,184.54 L94.55,185.24 L94.68,185.95 L94.81,186.65 L94.95,187.35 L95.08,188.05 L95.22,188.75 L95.35,189.46 L95.49,190.16 L95.63,190.86 L95.76,191.56 L95.90,192.26 L96.04,192.96 L96.18,193.66 L96.32,194.36 L96.46,195.06 L96.60,195.76 L96.75,196.46 L96.89,197.16 L97.04,197.85 L97.18,198.55 L97.33,199.25 L97.47,199.95 L97.62,200.64 L97.77,201.34 L97.92,202.04 L98.07,202.73 L98.22,203.43 L98.37,204.12 L98.52,204.82 L98.67,205.51 L98.83,206.21 L98.98,206.90 L99.14,207.59 L99.29,208.29 L99.45,208.98 L99.61,209.67 L99.77,210.36 L99.93,211.05 L100.09,211.74 L100.25,212.43 L100.41,213.12 L100.58,213.81 L100.74,214.50 L100.91,215.19 L101.07,215.88 L101.24,216.57 L101.41,217.25 L101.58,217.94 L101.75,218.62 L101.92,219.31 L102.09,219.99 L102.27,220.68 L102.44,221.36 L102.62,222.04 L102.79,222.73 L102.97,223.41 L103.15,224.09 L103.33,224.77 L103.51,225.45 L103.69,226.13 L103.88,226.81 L104.06,227.49 L104.25,228.17 L104.43,228.84 L104.62,229.52 L104.81,230.19 L105.00,230.87 L105.19,231.54 L105.38,232.22 L105.57,232.89 L105.77,233.56 L105.96,234.24 L106.16,234.91 L106.36,235.58 L106.56,236.25 L106.76,236.92" stroke="#e9a92c" stroke-width="1.2"/>
<path d="M46.69,237.65 L46.70,237.40 L46.70,237.15 L46.71,236.91 L46.72,236.67 L46.73,236.43 L46.74,236.20 L46.76,235.97 L46.78,235.74 L46.80,235.51 L46.83,235.29 L46.86,235.07 L46.89,234.85 L46.92,234.64 L46.96,234.42 L46.99,234.22 L47.03,234.01 L47.08,233.81 L47.12,233.61 L47.17,233.41 L47.22,233.21 L47.27,233.02 L47.33,232.83 L47.38,232.65 L47.44,232.46 L47.50,232.28 L47.56,232.11 L47.63,231.93 L47.69,231.76 L47.76,231.59 L47.83,231.42 L47.91,231.26 L47.98,231.10 L48.06,230.94 L48.14,230.79 L48.22,230.63 L48.30,230.48 L48.39,230.34 L48.47,230.19 L48.56,230.05 L48.65,229.91 L48.74,229.78 L48.83,229.65 L48.93,229.52 L49.02,229.39 L49.12,229.27 L49.22,229.15 L49.32,229.03 L49.42,228.91 L49.53,228.80 L49.63,228.69 L49.74,228.58 L49.85,228.48 L49.96,228.38 L50.07,228.28 L50.18,228.18 L50.30,228.09 L50.41,228.00 L50.53,227.91 L50.64,227.82 L50.76,227.74 L50.88,227.66 L51.00,227.59 L51.12,227.51 L51.25,227.44 L51.37,227.37 L51.50,227.31 L51.62,227.25 L51.75,227.19 L51.88,227.13 L52.01,227.08 L52.14,227.02 L52.27,226.98 L52.40,226.93 L52.53,226.89 L52.66,226.85 L52.80,226.81 L52.93,226.77 L53.07,226.74 L53.20,226.71 L53.34,226.69 L53.48,226.66 L53.62,226.64 L53.75,226.62 L53.89,226.61 L54.03,226.60 L54.17,226.59 L54.31,226.58 L54.45,226.58 L54.59,226.57 L54.74,226.58 L54.88,226.58 L55.02,226.59 L55.16,226.60 L55.30,226.61 L55.45,226.62 L55.59,226.64 L55.73,226.66 L55.88,226.68 L56.02,226.71 L56.16,226.73 L56.31,226.76 L56.45,226.80 L56.59,226.83 L56.74,226.87 L56.88,226.91 L57.02,226.95 L57.17,227.00 L57.31,227.05 L57.45,227.10 L57.60,227.15 L57.74,227.20 L57.88,227.26 L58.02,227.32 L58.16,227.38 L58.30,227.45 L58.44,227.51 L58.58,227.58 L58.72,227.65 L58.86,227.73 L59.00,227.80 L59.14,227.88 L59.28,227.96 L59.42,228.04 L59.55,228.13 L59.69,228.21 L59.82,228.30 L59.96,228.39 L60.09,228.49 L60.22,228.58 L60.36,228.68 L60.49,228.78 L60.62,228.88 L60.75,228.98 L60.87,229.09 L61.00,229.19 L61.13,229.30 L61.25,229.42 L61.38,229.53 L61.50,229.64 L61.62,229.76 L61.75,229.88 L61.87,230.00 L61.99,230.12 L62.10,230.25 L62.22,230.37 L62.33,230.50 L62.45,230.63 L62.56,230.76 L62.67,230.90 L62.78,231.03 L62.89,231.17 L63.00,231.31 L63.10,231.45 L63.21,231.59 L63.31,231.73 L63.41,231.88 L63.51,232.03 L63.61,232.18 L63.70,232.33 L63.80,232.48 L63.89,232.63 L63.98,232.79 L64.07,232.94 L64.16,233.10 L64.24,233.26 L64.33,233.42 L64.41,233.58 L64.49,233.75 L64.57,233.91 L64.64,234.08 L64.72,234.25 L64.79,234.42 L64.86,234.59 L64.93,234.76 L64.99,234.93 L65.06,235.11 L65.12,235.28 L65.18,235.46 L65.23,235.64 L65.29,235.82 L65.34,236.00 L65.39,236.19 L65.44,236.37 L65.48,236.55 L65.53,236.74 L65.57,236.93 L65.60,237.12 L65.64,237.30 L65.67,237.50 L65.70,237.69 L65.73,237.88" stroke="#b89a22" stroke-width="1.4" stroke-dasharray="4.8 4.2" stroke-dashoffset="-1.5"/>
<path d="M114.63,237.21 L114.79,236.63 L114.96,236.06 L115.12,235.48 L115.28,234.91 L115.44,234.33 L115.61,233.76 L115.77,233.18 L115.93,232.61 L116.08,232.03 L116.24,231.46 L116.40,230.88 L116.56,230.31 L116.71,229.74 L116.87,229.16 L117.03,228.59 L117.18,228.02 L117.33,227.44 L117.49,226.87 L117.64,226.30 L117.79,225.72 L117.94,225.15 L118.10,224.58 L118.25,224.01 L118.40,223.44 L118.55,222.86 L118.69,222.29 L118.84,221.72 L118.99,221.15 L119.14,220.58 L119.28,220.01 L119.43,219.44 L119.57,218.87 L119.72,218.30 L119.86,217.73 L120.01,217.16 L120.15,216.59 L120.29,216.02 L120.43,215.45 L120.57,214.88 L120.71,214.31 L120.85,213.74 L120.99,213.17 L121.13,212.60 L121.27,212.03 L121.41,211.46 L121.55,210.89 L121.68,210.32 L121.82,209.75 L121.96,209.18 L122.09,208.62 L122.23,208.05 L122.36,207.48 L122.49,206.91 L122.63,206.34 L122.76,205.77 L122.89,205.21 L123.02,204.64 L123.16,204.07 L123.29,203.50 L123.42,202.93 L123.55,202.37 L123.68,201.80 L123.80,201.23 L123.93,200.66 L124.06,200.09 L124.19,199.53 L124.31,198.96 L124.44,198.39 L124.57,197.82 L124.69,197.26 L124.82,196.69 L124.94,196.12 L125.07,195.55 L125.19,194.99 L125.31,194.42 L125.44,193.85 L125.56,193.29 L125.68,192.72 L125.80,192.15 L125.92,191.58 L126.04,191.02 L126.16,190.45 L126.28,189.88 L126.40,189.31 L126.52,188.75 L126.64,188.18 L126.76,187.61 L126.88,187.05 L126.99,186.48 L127.11,185.91 L127.23,185.34 L127.34,184.78 L127.46,184.21 L127.58,183.64 L127.69,183.07 L127.80,182.51 L127.92,181.94 L128.03,181.37 L128.15,180.80 L128.26,180.24 L128.37,179.67 L128.48,179.10 L128.60,178.53 L128.71,177.97 L128.82,177.40 L128.93,176.83 L129.04,176.26 L129.15,175.69 L129.26,175.13 L129.37,174.56 L129.48,173.99 L129.59,173.42 L129.70,172.85 L129.81,172.28 L129.91,171.71 L130.02,171.15 L130.13,170.58 L130.24,170.01 L130.34,169.44 L130.45,168.87 L130.55,168.30 L130.66,167.73 L130.77,167.16 L130.87,166.59 L130.98,166.02 L131.08,165.45 L131.18,164.88 L131.29,164.31 L131.39,163.74 L131.50,163.17 L131.60,162.60 L131.70,162.03 L131.80,161.46 L131.91,160.89 L132.01,160.32 L132.11,159.75 L132.21,159.18 L132.31,158.61 L132.41,158.03 L132.51,157.46 L132.61,156.89 L132.71,156.32 L132.81,155.75 L132.91,155.17 L133.01,154.60 L133.11,154.03 L133.21,153.46 L133.31,152.88 L133.41,152.31 L133.51,151.74 L133.61,151.16 L133.70,150.59 L133.80,150.02 L133.90,149.44 L134.00,148.87 L134.09,148.29 L134.19,147.72 L134.29,147.14 L134.38,146.57 L134.48,145.99 L134.58,145.42 L134.67,144.84 L134.77,144.27 L134.86,143.69 L134.96,143.11 L135.05,142.54 L135.15,141.96 L135.24,141.38 L135.34,140.81 L135.43,140.23 L135.53,139.65 L135.62,139.07 L135.72,138.50 L135.81,137.92 L135.90,137.34 L136.00,136.76 L136.09,136.18 L136.18,135.60 L136.28,135.02 L136.37,134.44 L136.46,133.86 L136.56,133.28 L136.65,132.70 L136.74,132.12 L136.83,131.54 L136.93,130.96 L137.02,130.37 L137.11,129.79 L137.20,129.21 L137.30,128.63 L137.39,128.04 L137.48,127.46 L137.57,126.88 L137.66,126.29 L137.75,125.71 L137.85,125.12 L137.94,124.54 L138.03,123.95 L138.12,123.37 L138.21,122.78 L138.30,122.20 L138.39,121.61 L138.48,121.02 L138.57,120.44 L138.66,119.85 L138.76,119.26 L138.85,118.67 L138.94,118.09 L139.03,117.50 L139.12,116.91 L139.21,116.32 L139.30,115.73 L139.39,115.14 L139.48,114.55 L139.57,113.96 L139.66,113.37 L139.75,112.78 L139.84,112.18 L139.93,111.59 L140.02,111.00 L140.11,110.41 L140.20,109.81 L140.29,109.22 L140.38,108.63 L140.47,108.03 L140.56,107.44 L140.66,106.84 L140.75,106.25 L140.84,105.65 L140.93,105.06 L141.03,104.47 L141.12,103.87 L141.22,103.28 L141.31,102.68 L141.41,102.09 L141.51,101.50 L141.61,100.91 L141.71,100.32 L141.81,99.73 L141.91,99.14 L142.02,98.55 L142.12,97.96 L142.23,97.37 L142.34,96.78 L142.45,96.20 L142.57,95.61 L142.68,95.03 L142.80,94.45 L142.92,93.87 L143.04,93.29 L143.16,92.71 L143.29,92.13 L143.42,91.55 L143.55,90.98 L143.69,90.41 L143.82,89.84 L143.96,89.27 L144.10,88.70 L144.25,88.13 L144.40,87.57 L144.55,87.01 L144.70,86.45 L144.86,85.89 L145.02,85.33 L145.19,84.78 L145.36,84.23 L145.53,83.68 L145.70,83.13 L145.88,82.59 L146.06,82.05 L146.25,81.51 L146.44,80.97 L146.64,80.44 L146.84,79.91 L147.04,79.38 L147.25,78.86 L147.46,78.33 L147.68,77.81 L147.90,77.30 L148.12,76.78 L148.35,76.27 L148.59,75.77 L148.83,75.26 L149.07,74.76 L149.32,74.27 L149.58,73.77 L149.84,73.28 L150.10,72.80 L150.37,72.31 L150.65,71.83 L150.93,71.36 L151.22,70.89 L151.51,70.42 L151.81,69.96 L152.11,69.50 L152.42,69.04 L152.74,68.59 L153.06,68.14 L153.39,67.70 L153.73,67.26 L154.07,66.82 L154.42,66.39 L154.77,65.97 L155.13,65.55 L155.50,65.14 L155.87,64.75 L156.25,64.38 L156.64,64.05 L157.03,63.74 L157.43,63.48 L157.84,63.27 L158.26,63.11 L158.68,63.01 L159.11,62.97 L159.54,63.01 L159.99,63.12 L160.44,63.31 L160.89,63.58 L161.35,63.91 L161.80,64.30 L162.26,64.74 L162.70,65.22 L163.14,65.74 L163.56,66.28 L163.97,66.84 L164.36,67.41 L164.73,67.98 L165.08,68.55 L165.41,69.12 L165.73,69.70 L166.03,70.27 L166.31,70.84 L166.58,71.41 L166.84,71.99 L167.09,72.56 L167.33,73.13 L167.55,73.70 L167.78,74.27 L167.99,74.84 L168.20,75.40 L168.40,75.97 L168.60,76.53 L168.80,77.10 L169.00,77.66 L169.20,78.22 L169.40,78.78 L169.60,79.34 L169.81,79.89 L170.01,80.44 L170.22,81.00 L170.43,81.55 L170.64,82.10 L170.85,82.64 L171.06,83.19 L171.28,83.74 L171.49,84.28 L171.71,84.83 L171.92,85.37 L172.14,85.91 L172.36,86.45 L172.57,86.99 L172.79,87.53 L173.01,88.07 L173.23,88.61 L173.44,89.15 L173.66,89.69 L173.88,90.22 L174.10,90.76 L174.32,91.30 L174.53,91.84 L174.75,92.38 L174.97,92.91 L175.18,93.45 L175.40,93.99 L175.61,94.53 L175.82,95.07 L176.03,95.61 L176.24,96.15 L176.46,96.69 L176.66,97.23 L176.87,97.77 L177.08,98.31 L177.29,98.85 L177.50,99.39 L177.70,99.93 L177.91,100.48 L178.11,101.02 L178.31,101.56 L178.52,102.11 L178.72,102.65 L178.92,103.19 L179.12,103.74 L179.32,104.28 L179.52,104.83 L179.72,105.37 L179.92,105.92 L180.12,106.46 L180.32,107.01 L180.52,107.55 L180.72,108.10 L180.91,108.65 L181.11,109.19 L181.30,109.74 L181.50,110.29 L181.70,110.84 L181.89,111.38 L182.09,111.93 L182.28,112.48 L182.47,113.03 L182.67,113.57 L182.86,114.12 L183.05,114.67 L183.25,115.22 L183.44,115.77 L183.63,116.32 L183.83,116.87 L184.02,117.42 L184.21,117.97 L184.40,118.51 L184.59,119.06 L184.79,119.61 L184.98,120.16 L185.17,120.71 L185.36,121.26 L185.55,121.81 L185.75,122.36 L185.94,122.91 L186.13,123.46 L186.32,124.01 L186.51,124.57 L186.70,125.12 L186.90,125.67 L187.09,126.22 L187.28,126.77 L187.47,127.32 L187.67,127.87 L187.86,128.42 L188.05,128.97 L188.25,129.52 L188.44,130.07 L188.64,130.62 L188.83,131.17 L189.02,131.72 L189.22,132.27 L189.41,132.82 L189.61,133.37 L189.81,133.93 L190.00,134.48 L190.20,135.03 L190.40,135.58 L190.59,136.13 L190.79,136.68 L190.99,137.23 L191.19,137.78 L191.39,138.33 L191.59,138.88 L191.79,139.43 L191.99,139.98 L192.19,140.53 L192.40,141.07 L192.60,141.62 L192.80,142.17 L193.01,142.72 L193.21,143.27 L193.42,143.82 L193.63,144.37 L193.83,144.92 L194.04,145.46 L194.25,146.01 L194.46,146.56 L194.67,147.11 L194.88,147.66 L195.09,148.20 L195.31,148.75 L195.52,149.30 L195.73,149.84 L195.95,150.39 L196.17,150.94 L196.38,151.48 L196.60,152.03 L196.82,152.57 L197.04,153.12 L197.26,153.66 L197.48,154.21 L197.70,154.75 L197.93,155.30 L198.15,155.84 L198.37,156.38 L198.60,156.93 L198.83,157.47 L199.05,158.01 L199.28,158.55 L199.51,159.09 L199.74,159.63 L199.97,160.17 L200.21,160.71 L200.44,161.25 L200.68,161.79 L200.91,162.33 L201.15,162.87 L201.38,163.41 L201.62,163.95 L201.86,164.48 L202.10,165.02 L202.34,165.56 L202.59,166.09 L202.83,166.63 L203.07,167.16 L203.32,167.70 L203.57,168.23 L203.81,168.76 L204.06,169.29 L204.31,169.83 L204.56,170.36 L204.82,170.89 L205.07,171.42 L205.32,171.95 L205.58,172.48 L205.84,173.00 L206.09,173.53 L206.35,174.06 L206.61,174.59 L206.87,175.11 L207.14,175.64 L207.40,176.16 L207.66,176.68 L207.93,177.21 L208.20,177.73 L208.47,178.25 L208.73,178.77 L209.01,179.29 L209.28,179.81 L209.55,180.33 L209.82,180.85 L210.10,181.36 L210.38,181.88 L210.65,182.40 L210.93,182.91 L211.21,183.42 L211.50,183.94 L211.78,184.45 L212.06,184.96 L212.35,185.47 L212.64,185.98 L212.92,186.49 L213.21,187.00 L213.50,187.51 L213.80,188.01 L214.09,188.52 L214.38,189.02 L214.68,189.53 L214.98,190.03 L215.28,190.53 L215.58,191.03 L215.88,191.53 L216.18,192.03 L216.48,192.53 L216.79,193.02 L217.10,193.52 L217.41,194.02 L217.72,194.51 L218.03,195.00 L218.34,195.49 L218.65,195.98 L218.97,196.47 L219.29,196.96 L219.60,197.45 L219.92,197.94 L220.25,198.42 L220.57,198.91 L220.89,199.39 L221.22,199.87 L221.55,200.35 L221.88,200.84 L222.21,201.31 L222.54,201.79 L222.87,202.27 L223.21,202.74 L223.54,203.22 L223.88,203.69 L224.22,204.16 L224.56,204.63 L224.90,205.10 L225.25,205.57 L225.59,206.04 L225.94,206.51 L226.29,206.97 L226.64,207.43 L226.99,207.90 L227.34,208.36 L227.70,208.82 L228.06,209.27 L228.41,209.73 L228.77,210.19 L229.14,210.64 L229.50,211.09 L229.87,211.55 L230.23,212.00 L230.60,212.45 L230.97,212.89 L231.34,213.34 L231.72,213.79 L232.09,214.23 L232.47,214.67 L232.85,215.11 L233.23,215.55 L233.61,215.99 L233.99,216.43 L234.38,216.86 L234.76,217.29 L235.15,217.73 L235.54,218.16 L235.94,218.59 L236.33,219.01 L236.73,219.44 L237.12,219.87 L237.52,220.29 L237.92,220.71 L238.33,221.13 L238.73,221.55 L239.14,221.97 L239.55,222.38 L239.96,222.80 L240.37,223.21 L240.78,223.62 L241.20,224.03 L241.62,224.44 L242.04,224.84 L242.46,225.25 L242.88,225.65 L243.31,226.05 L243.74,226.45 L244.16,226.85 L244.60,227.24 L245.03,227.64 L245.46,228.03 L245.90,228.42 L246.34,228.81 L246.78,229.20 L247.22,229.58 L247.67,229.97 L248.11,230.35 L248.56,230.73 L249.01,231.11 L249.46,231.49 L249.92,231.86 L250.37,232.24 L250.83,232.61 L251.29,232.98 L251.75,233.35 L252.22,233.71 L252.69,234.08 L253.15,234.44 L253.62,234.80 L254.10,235.16 L254.57,235.52 L255.05,235.87 L255.53,236.23 L256.01,236.58" stroke="#b89a22" stroke-width="1.4" stroke-dasharray="4.8 4.2" stroke-dashoffset="-3"/>
<path d="M45.28,234.72 L45.72,234.47 L46.18,234.24 L46.67,234.03 L47.19,233.86 L47.72,233.70 L48.29,233.57 L48.87,233.46 L49.47,233.36 L50.09,233.29 L50.72,233.22 L51.37,233.17 L52.03,233.13 L52.70,233.09 L53.38,233.07 L54.07,233.05 L54.76,233.03 L55.46,233.01 L56.16,232.99 L56.87,232.97 L57.57,232.95 L58.27,232.92 L58.97,232.88 L59.66,232.83 L60.34,232.77 L61.02,232.69 L61.68,232.60 L62.33,232.50 L62.97,232.37 L63.60,232.22 L64.21,232.05 L64.80,231.86 L65.37,231.64 L65.93,231.40 L66.47,231.14 L66.99,230.86 L67.50,230.56 L68.00,230.23 L68.48,229.89 L68.94,229.53 L69.40,229.16 L69.84,228.77 L70.26,228.36 L70.68,227.94 L71.08,227.50 L71.48,227.05 L71.86,226.59 L72.23,226.11 L72.59,225.62 L72.95,225.13 L73.29,224.62 L73.63,224.10 L73.96,223.58 L74.28,223.05 L74.59,222.51 L74.90,221.96 L75.20,221.41 L75.50,220.86 L75.79,220.30 L76.07,219.74 L76.36,219.17 L76.64,218.61 L76.91,218.04 L77.18,217.47 L77.45,216.90 L77.72,216.33 L77.98,215.76 L78.24,215.19 L78.50,214.62 L78.75,214.04 L79.01,213.47 L79.25,212.90 L79.50,212.32 L79.74,211.74 L79.98,211.17 L80.22,210.59 L80.45,210.01 L80.69,209.43 L80.91,208.85 L81.14,208.27 L81.36,207.69 L81.59,207.10 L81.80,206.52 L82.02,205.94 L82.23,205.35 L82.44,204.76 L82.65,204.18 L82.86,203.59 L83.06,203.00 L83.26,202.42 L83.46,201.83 L83.66,201.24 L83.85,200.65 L84.04,200.05 L84.23,199.46 L84.42,198.87 L84.61,198.28 L84.79,197.68 L84.97,197.09 L85.15,196.49 L85.32,195.90 L85.50,195.30 L85.67,194.70 L85.84,194.11 L86.01,193.51 L86.17,192.91 L86.34,192.31 L86.50,191.71 L86.66,191.11 L86.82,190.51 L86.98,189.91 L87.13,189.31 L87.28,188.70 L87.44,188.10 L87.59,187.50 L87.73,186.89 L87.88,186.29 L88.02,185.68 L88.17,185.07 L88.31,184.47 L88.45,183.86 L88.59,183.25 L88.72,182.65 L88.86,182.04 L88.99,181.43 L89.12,180.82 L89.25,180.21 L89.38,179.60 L89.51,178.99 L89.64,178.38 L89.76,177.77 L89.89,177.15 L90.01,176.54 L90.13,175.93 L90.25,175.32 L90.37,174.70 L90.49,174.09 L90.61,173.47 L90.72,172.86 L90.84,172.24 L90.95,171.63 L91.06,171.01 L91.18,170.40 L91.29,169.78 L91.40,169.16 L91.51,168.54 L91.61,167.93 L91.72,167.31 L91.83,166.69 L91.93,166.07 L92.04,165.45 L92.14,164.83 L92.25,164.21 L92.35,163.59 L92.45,162.97 L92.55,162.35 L92.65,161.73 L92.75,161.11 L92.85,160.49 L92.95,159.87 L93.05,159.25 L93.15,158.63 L93.25,158.00 L93.34,157.38 L93.44,156.76 L93.54,156.14 L93.63,155.51 L93.73,154.89 L93.82,154.27 L93.92,153.64 L94.02,153.02 L94.11,152.40 L94.20,151.77 L94.30,151.15 L94.39,150.52 L94.49,149.90 L94.58,149.28 L94.68,148.65 L94.77,148.03 L94.86,147.40 L94.96,146.78 L95.05,146.15 L95.15,145.53 L95.24,144.90 L95.34,144.27 L95.43,143.65 L95.53,143.02 L95.62,142.40 L95.72,141.77 L95.81,141.15 L95.91,140.52 L96.00,139.89 L96.10,139.27 L96.20,138.64 L96.30,138.02 L96.39,137.39 L96.49,136.76 L96.59,136.14 L96.69,135.51 L96.79,134.89 L96.89,134.26 L96.99,133.63 L97.09,133.01 L97.20,132.38 L97.30,131.76 L97.40,131.13 L97.51,130.51 L97.61,129.88 L97.72,129.25 L97.82,128.63 L97.93,128.00 L98.04,127.38 L98.15,126.75 L98.26,126.13 L98.37,125.50 L98.48,124.88 L98.59,124.26 L98.71,123.63 L98.82,123.01 L98.94,122.39 L99.05,121.77 L99.17,121.15 L99.29,120.53 L99.41,119.91 L99.53,119.29 L99.65,118.67 L99.77,118.05 L99.89,117.44 L100.01,116.82 L100.14,116.21 L100.26,115.59 L100.39,114.98 L100.52,114.37 L100.64,113.76 L100.77,113.15 L100.90,112.54 L101.03,111.94 L101.16,111.33 L101.30,110.73 L101.43,110.13 L101.57,109.53 L101.70,108.93 L101.84,108.33 L101.98,107.73 L102.12,107.14 L102.26,106.54 L102.40,105.95 L102.54,105.36 L102.68,104.78 L102.83,104.19 L102.97,103.61 L103.12,103.02 L103.27,102.44 L103.41,101.86 L103.56,101.29 L103.71,100.71 L103.87,100.14 L104.02,99.56 L104.17,98.99 L104.33,98.41 L104.48,97.84 L104.64,97.26 L104.79,96.69 L104.95,96.11 L105.11,95.54 L105.27,94.96 L105.42,94.38 L105.58,93.80 L105.74,93.21 L105.90,92.63 L106.07,92.04 L106.23,91.45 L106.39,90.85 L106.55,90.25 L106.71,89.65 L106.87,89.05 L107.04,88.44 L107.20,87.82 L107.36,87.21 L107.53,86.58 L107.69,85.95 L107.85,85.32 L108.01,84.68 L108.18,84.04 L108.34,83.39 L108.50,82.73 L108.67,82.07 L108.83,81.40 L108.99,80.72 L109.15,80.03 L109.31,79.34 L109.48,78.64 L109.64,77.94 L109.80,77.23 L109.97,76.53 L110.14,75.82 L110.31,75.11 L110.49,74.41 L110.68,73.72 L110.87,73.03 L111.07,72.35 L111.27,71.69 L111.49,71.04 L111.71,70.40 L111.95,69.78 L112.19,69.17 L112.45,68.59 L112.72,68.03 L113.01,67.49 L113.30,66.98 L113.62,66.49 L113.95,66.04 L114.29,65.61 L114.65,65.22 L115.03,64.86 L115.43,64.54 L115.85,64.26 L116.28,64.03 L116.72,63.85 L117.16,63.74 L117.61,63.69 L118.06,63.72 L118.51,63.82 L118.96,64.00 L119.40,64.23 L119.83,64.52 L120.26,64.85 L120.67,65.23 L121.07,65.63 L121.46,66.06 L121.84,66.51 L122.20,66.96 L122.54,67.43 L122.87,67.92 L123.19,68.41 L123.49,68.92 L123.78,69.43 L124.05,69.96 L124.32,70.50 L124.57,71.05 L124.82,71.60 L125.05,72.17 L125.27,72.74 L125.48,73.32 L125.69,73.91 L125.88,74.51 L126.07,75.11 L126.25,75.72 L126.42,76.34 L126.59,76.96 L126.75,77.58 L126.90,78.21 L127.05,78.85 L127.19,79.48 L127.33,80.12 L127.47,80.77 L127.60,81.41 L127.73,82.06 L127.86,82.71 L127.98,83.36 L128.11,84.01 L128.23,84.66 L128.35,85.31 L128.48,85.96 L128.60,86.60 L128.72,87.25 L128.85,87.90 L128.97,88.54 L129.10,89.18 L129.23,89.82 L129.35,90.46 L129.48,91.10 L129.61,91.74 L129.74,92.38 L129.87,93.01 L130.00,93.65 L130.13,94.28 L130.26,94.91 L130.39,95.54 L130.52,96.17 L130.65,96.80 L130.78,97.43 L130.92,98.06 L131.05,98.68 L131.18,99.31 L131.32,99.93 L131.45,100.55 L131.59,101.17 L131.72,101.80 L131.86,102.42 L131.99,103.04 L132.13,103.65 L132.26,104.27 L132.40,104.89 L132.54,105.51 L132.67,106.12 L132.81,106.74 L132.95,107.35 L133.09,107.96 L133.22,108.58 L133.36,109.19 L133.50,109.80 L133.64,110.41 L133.78,111.02 L133.92,111.63 L134.05,112.24 L134.19,112.85 L134.33,113.46 L134.47,114.06 L134.61,114.67 L134.75,115.28 L134.89,115.89 L135.03,116.49 L135.17,117.10 L135.30,117.70 L135.44,118.31 L135.58,118.91 L135.72,119.52 L135.86,120.12 L136.00,120.72 L136.14,121.33 L136.28,121.93 L136.42,122.53 L136.55,123.13 L136.69,123.74 L136.83,124.34 L136.97,124.94 L137.11,125.54 L137.24,126.15 L137.38,126.75 L137.52,127.35 L137.66,127.95 L137.79,128.55 L137.93,129.15 L138.07,129.76 L138.20,130.36 L138.34,130.96 L138.47,131.56 L138.61,132.16 L138.74,132.77 L138.88,133.37 L139.01,133.97 L139.15,134.57 L139.28,135.18 L139.41,135.78 L139.54,136.38 L139.68,136.99 L139.81,137.59 L139.94,138.19 L140.07,138.80 L140.20,139.40 L140.33,140.01 L140.46,140.61 L140.59,141.22 L140.72,141.82 L140.84,142.43 L140.97,143.04 L141.10,143.65 L141.23,144.25 L141.35,144.86 L141.48,145.47 L141.60,146.08 L141.73,146.69 L141.85,147.30 L141.97,147.91 L142.10,148.52 L142.22,149.13 L142.34,149.74 L142.47,150.35 L142.59,150.96 L142.71,151.58 L142.83,152.19 L142.95,152.80 L143.07,153.41 L143.19,154.03 L143.31,154.64 L143.43,155.25 L143.55,155.87 L143.67,156.48 L143.79,157.10 L143.91,157.71 L144.03,158.32 L144.15,158.94 L144.27,159.56 L144.39,160.17 L144.51,160.79 L144.63,161.40 L144.74,162.02 L144.86,162.63 L144.98,163.25 L145.10,163.87 L145.22,164.48 L145.34,165.10 L145.46,165.72 L145.57,166.33 L145.69,166.95 L145.81,167.57 L145.93,168.19 L146.05,168.80 L146.17,169.42 L146.29,170.04 L146.40,170.66 L146.52,171.27 L146.64,171.89 L146.76,172.51 L146.88,173.13 L147.00,173.75 L147.12,174.36 L147.24,174.98 L147.36,175.60 L147.48,176.22 L147.60,176.84 L147.73,177.45 L147.85,178.07 L147.97,178.69 L148.09,179.31 L148.21,179.92 L148.34,180.54 L148.46,181.16 L148.58,181.78 L148.71,182.40 L148.83,183.01 L148.96,183.63 L149.08,184.25 L149.21,184.87 L149.33,185.48 L149.46,186.10 L149.59,186.72 L149.72,187.33 L149.84,187.95 L149.97,188.57 L150.10,189.18 L150.23,189.80 L150.36,190.42 L150.49,191.03 L150.62,191.65 L150.76,192.26 L150.89,192.88 L151.02,193.49 L151.16,194.11 L151.29,194.72 L151.43,195.34 L151.56,195.95 L151.70,196.57 L151.84,197.18 L151.97,197.80 L152.11,198.41 L152.25,199.02 L152.39,199.63 L152.53,200.25 L152.68,200.86 L152.82,201.47 L152.96,202.08 L153.11,202.69 L153.25,203.31 L153.40,203.92 L153.55,204.53 L153.69,205.14 L153.84,205.75 L153.99,206.36 L154.14,206.96 L154.30,207.57 L154.45,208.18 L154.60,208.79 L154.76,209.40 L154.91,210.00 L155.07,210.61 L155.23,211.22 L155.39,211.82 L155.55,212.43 L155.71,213.03 L155.87,213.64 L156.03,214.24 L156.20,214.84 L156.36,215.45 L156.53,216.05 L156.70,216.65 L156.87,217.25 L157.04,217.86 L157.21,218.46 L157.38,219.06 L157.56,219.66 L157.73,220.26 L157.91,220.85 L158.09,221.45 L158.26,222.05 L158.45,222.65 L158.63,223.24 L158.81,223.84 L158.99,224.43 L159.18,225.03 L159.37,225.62 L159.56,226.22 L159.75,226.81 L159.94,227.40 L160.13,227.99 L160.32,228.58 L160.52,229.18 L160.72,229.77 L160.92,230.35 L161.12,230.94 L161.32,231.53 L161.52,232.12 L161.72,232.70 L161.93,233.29 L162.14,233.87 L162.35,234.46 L162.56,235.04 L162.77,235.63 L162.99,236.21 L163.20,236.79 L163.42,237.37" stroke="#3d9a31" stroke-width="1.4" stroke-dasharray="4.8 4.2" stroke-dashoffset="-2"/>
<path d="M45.91,239.10 L46.02,238.41 L46.12,237.71 L46.22,237.02 L46.32,236.33 L46.42,235.64 L46.52,234.95 L46.62,234.26 L46.72,233.57 L46.82,232.88 L46.92,232.19 L47.02,231.50 L47.12,230.81 L47.22,230.13 L47.31,229.44 L47.41,228.75 L47.51,228.06 L47.61,227.37 L47.70,226.68 L47.80,226.00 L47.89,225.31 L47.99,224.62 L48.08,223.94 L48.18,223.25 L48.27,222.56 L48.37,221.88 L48.46,221.19 L48.55,220.50 L48.65,219.82 L48.74,219.13 L48.83,218.45 L48.92,217.76 L49.02,217.07 L49.11,216.39 L49.20,215.70 L49.29,215.02 L49.38,214.33 L49.47,213.65 L49.56,212.97 L49.66,212.28 L49.75,211.60 L49.84,210.91 L49.93,210.23 L50.01,209.55 L50.10,208.86 L50.19,208.18 L50.28,207.50 L50.37,206.81 L50.46,206.13 L50.55,205.45 L50.64,204.76 L50.72,204.08 L50.81,203.40 L50.90,202.72 L50.99,202.03 L51.07,201.35 L51.16,200.67 L51.25,199.99 L51.34,199.31 L51.42,198.62 L51.51,197.94 L51.60,197.26 L51.68,196.58 L51.77,195.90 L51.86,195.22 L51.94,194.54 L52.03,193.85 L52.11,193.17 L52.20,192.49 L52.29,191.81 L52.37,191.13 L52.46,190.45 L52.54,189.77 L52.63,189.09 L52.71,188.41 L52.80,187.73 L52.88,187.05 L52.97,186.37 L53.05,185.69 L53.14,185.01 L53.22,184.33 L53.31,183.65 L53.40,182.97 L53.48,182.29 L53.57,181.61 L53.65,180.93 L53.74,180.25 L53.82,179.57 L53.91,178.89 L53.99,178.21 L54.08,177.53 L54.16,176.85 L54.25,176.17 L54.33,175.49 L54.42,174.82 L54.50,174.14 L54.59,173.46 L54.67,172.78 L54.76,172.10 L54.84,171.42 L54.93,170.74 L55.02,170.06 L55.10,169.38 L55.19,168.70 L55.27,168.02 L55.36,167.35 L55.45,166.67 L55.53,165.99 L55.62,165.31 L55.70,164.63 L55.79,163.95 L55.88,163.27 L55.96,162.59 L56.05,161.91 L56.14,161.24 L56.23,160.56 L56.31,159.88 L56.40,159.20 L56.49,158.52 L56.58,157.84 L56.66,157.16 L56.75,156.48 L56.84,155.80 L56.93,155.12 L57.02,154.45 L57.11,153.77 L57.20,153.09 L57.28,152.41 L57.37,151.73 L57.46,151.05 L57.55,150.37 L57.64,149.69 L57.73,149.01 L57.82,148.33 L57.92,147.65 L58.01,146.97 L58.10,146.29 L58.19,145.61 L58.28,144.93 L58.37,144.25 L58.47,143.58 L58.56,142.90 L58.65,142.22 L58.74,141.54 L58.84,140.86 L58.93,140.18 L59.03,139.50 L59.12,138.82 L59.21,138.14 L59.31,137.45 L59.40,136.77 L59.50,136.09 L59.60,135.41 L59.69,134.73 L59.79,134.05 L59.89,133.37 L59.98,132.69 L60.08,132.01 L60.18,131.33 L60.28,130.65 L60.37,129.97 L60.47,129.28 L60.57,128.60 L60.67,127.92 L60.77,127.24 L60.87,126.56 L60.97,125.88 L61.07,125.19 L61.18,124.51 L61.28,123.83 L61.38,123.15 L61.48,122.46 L61.59,121.78 L61.69,121.10 L61.80,120.42 L61.90,119.73 L62.00,119.05 L62.11,118.37 L62.22,117.68 L62.32,117.00 L62.43,116.32 L62.54,115.63 L62.64,114.95 L62.75,114.26 L62.86,113.58 L62.97,112.90 L63.08,112.21 L63.19,111.53 L63.30,110.84 L63.41,110.16 L63.52,109.47 L63.64,108.79 L63.75,108.10 L63.86,107.42 L63.98,106.73 L64.09,106.04 L64.20,105.36 L64.32,104.67 L64.44,103.98 L64.55,103.30 L64.67,102.61 L64.79,101.92 L64.90,101.24 L65.02,100.55 L65.14,99.86 L65.26,99.17 L65.38,98.49 L65.50,97.80 L65.62,97.11 L65.75,96.42 L65.87,95.73 L65.99,95.04 L66.12,94.35 L66.24,93.67 L66.37,92.98 L66.49,92.29 L66.62,91.60 L66.75,90.91 L66.87,90.22 L67.00,89.53 L67.13,88.83 L67.26,88.14 L67.39,87.45 L67.52,86.76 L67.66,86.07 L67.79,85.38 L67.92,84.69 L68.06,83.99 L68.19,83.30 L68.33,82.61 L68.48,81.92 L68.62,81.23 L68.77,80.54 L68.93,79.86 L69.09,79.17 L69.25,78.49 L69.43,77.81 L69.60,77.13 L69.79,76.45 L69.98,75.78 L70.18,75.11 L70.39,74.44 L70.60,73.77 L70.83,73.11 L71.06,72.45 L71.31,71.80 L71.56,71.15 L71.83,70.50 L72.11,69.86 L72.40,69.22 L72.70,68.59 L73.02,67.96 L73.34,67.34 L73.69,66.72 L74.04,66.11 L74.42,65.50 L74.80,64.91 L75.20,64.34 L75.61,63.83 L76.02,63.41 L76.44,63.11 L76.85,62.94 L77.26,62.94 L77.66,63.09 L78.05,63.36 L78.44,63.73 L78.82,64.16 L79.20,64.65 L79.56,65.15 L79.92,65.67 L80.26,66.19 L80.60,66.72 L80.93,67.26 L81.25,67.80 L81.56,68.36 L81.87,68.92 L82.16,69.48 L82.45,70.06 L82.74,70.64 L83.01,71.22 L83.28,71.82 L83.54,72.42 L83.79,73.02 L84.04,73.63 L84.28,74.25 L84.52,74.87 L84.75,75.50 L84.97,76.13 L85.19,76.77 L85.40,77.41 L85.60,78.06 L85.80,78.71 L86.00,79.37 L86.19,80.03 L86.38,80.69 L86.56,81.36 L86.74,82.03 L86.91,82.71 L87.08,83.38 L87.24,84.07 L87.41,84.75 L87.56,85.44 L87.72,86.13 L87.87,86.82 L88.02,87.51 L88.17,88.21 L88.31,88.91 L88.45,89.61 L88.59,90.31 L88.72,91.01 L88.86,91.72 L88.99,92.42 L89.12,93.13 L89.25,93.84 L89.38,94.55 L89.50,95.25 L89.63,95.96 L89.75,96.67 L89.88,97.38 L90.00,98.09 L90.12,98.80 L90.24,99.50 L90.37,100.21 L90.49,100.91 L90.61,101.62 L90.74,102.32 L90.86,103.02 L90.99,103.72 L91.11,104.42 L91.24,105.12 L91.37,105.82 L91.50,106.51 L91.62,107.20 L91.75,107.89 L91.88,108.59 L92.01,109.27 L92.14,109.96 L92.28,110.65 L92.41,111.34 L92.54,112.02 L92.67,112.70 L92.81,113.39 L92.94,114.07 L93.07,114.75 L93.21,115.43 L93.34,116.11 L93.48,116.78 L93.62,117.46 L93.75,118.14 L93.89,118.81 L94.02,119.48 L94.16,120.16 L94.30,120.83 L94.44,121.50 L94.58,122.17 L94.71,122.84 L94.85,123.51 L94.99,124.18 L95.13,124.85 L95.27,125.52 L95.41,126.18 L95.55,126.85 L95.69,127.52 L95.83,128.18 L95.97,128.85 L96.11,129.51 L96.25,130.17 L96.39,130.84 L96.53,131.50 L96.67,132.16 L96.81,132.83 L96.96,133.49 L97.10,134.15 L97.24,134.81 L97.38,135.48 L97.52,136.14 L97.66,136.80 L97.80,137.46 L97.94,138.12 L98.08,138.78 L98.22,139.44 L98.36,140.10 L98.50,140.77 L98.64,141.43 L98.78,142.09 L98.92,142.75 L99.06,143.41 L99.20,144.07 L99.34,144.73 L99.48,145.40 L99.62,146.06 L99.76,146.72 L99.90,147.38 L100.03,148.05 L100.17,148.71 L100.31,149.37 L100.45,150.04 L100.58,150.70 L100.72,151.37 L100.85,152.03 L100.99,152.70 L101.12,153.36 L101.26,154.03 L101.39,154.70 L101.53,155.37 L101.66,156.03 L101.79,156.70 L101.93,157.37 L102.06,158.04 L102.19,158.71 L102.32,159.39 L102.45,160.06 L102.58,160.73 L102.72,161.40 L102.85,162.08 L102.98,162.75 L103.11,163.42 L103.24,164.10 L103.37,164.77 L103.49,165.45 L103.62,166.12 L103.75,166.80 L103.88,167.48 L104.01,168.15 L104.14,168.83 L104.27,169.51 L104.40,170.19 L104.53,170.86 L104.66,171.54 L104.78,172.22 L104.91,172.90 L105.04,173.58 L105.17,174.26 L105.30,174.94 L105.43,175.62 L105.56,176.30 L105.69,176.98 L105.82,177.66 L105.95,178.34 L106.08,179.02 L106.21,179.70 L106.34,180.38 L106.47,181.06 L106.60,181.74 L106.73,182.42 L106.87,183.10 L107.00,183.78 L107.13,184.46 L107.26,185.14 L107.40,185.82 L107.53,186.51 L107.67,187.19 L107.80,187.87 L107.94,188.55 L108.07,189.23 L108.21,189.91 L108.35,190.59 L108.48,191.27 L108.62,191.95 L108.76,192.63 L108.90,193.31 L109.04,193.99 L109.18,194.67 L109.32,195.35 L109.46,196.03 L109.60,196.71 L109.75,197.39 L109.89,198.06 L110.04,198.74 L110.18,199.42 L110.33,200.10 L110.48,200.78 L110.62,201.45 L110.77,202.13 L110.92,202.81 L111.07,203.48 L111.22,204.16 L111.38,204.83 L111.53,205.51 L111.69,206.18 L111.84,206.86 L112.00,207.53 L112.16,208.20 L112.31,208.88 L112.47,209.55 L112.63,210.22 L112.80,210.89 L112.96,211.56 L113.12,212.23 L113.29,212.90 L113.45,213.57 L113.62,214.24 L113.79,214.91 L113.96,215.58 L114.13,216.24 L114.31,216.91 L114.48,217.57 L114.65,218.24 L114.83,218.90 L115.01,219.57 L115.19,220.23 L115.37,220.89 L115.55,221.55 L115.74,222.22 L115.92,222.88 L116.11,223.53 L116.30,224.19 L116.48,224.85 L116.68,225.51 L116.87,226.16 L117.06,226.82 L117.26,227.47 L117.46,228.13 L117.65,228.78 L117.85,229.43 L118.06,230.08 L118.26,230.73 L118.47,231.38 L118.67,232.03 L118.88,232.68 L119.09,233.33 L119.31,233.97 L119.52,234.62 L119.74,235.26 L119.96,235.90 L120.17,236.54 L120.40,237.18 L120.62,237.82" stroke="#2d50c6" stroke-width="1.4" stroke-dasharray="4.8 4.2" stroke-dashoffset="-4.5"/>
</g>
<rect x="45.0" y="20.3" width="303.40" height="215.00" fill="none" stroke="#909090" stroke-width="1"/>
<path d="M45.00,235.3V233.10M45.00,20.3V22.50M51.74,235.3V233.10M51.74,20.3V22.50M58.48,235.3V233.10M58.48,20.3V22.50M65.23,235.3V233.10M65.23,20.3V22.50M71.97,235.3V233.10M71.97,20.3V22.50M78.71,235.3V231.00M78.71,20.3V24.60M85.45,235.3V233.10M85.45,20.3V22.50M92.20,235.3V233.10M92.20,20.3V22.50M98.94,235.3V233.10M98.94,20.3V22.50M105.68,235.3V233.10M105.68,20.3V22.50M112.42,235.3V233.10M112.42,20.3V22.50M119.16,235.3V233.10M119.16,20.3V22.50M125.91,235.3V233.10M125.91,20.3V22.50M132.65,235.3V233.10M132.65,20.3V22.50M139.39,235.3V233.10M139.39,20.3V22.50M146.13,235.3V231.00M146.13,20.3V24.60M152.88,235.3V233.10M152.88,20.3V22.50M159.62,235.3V233.10M159.62,20.3V22.50M166.36,235.3V233.10M166.36,20.3V22.50M173.10,235.3V233.10M173.10,20.3V22.50M179.84,235.3V233.10M179.84,20.3V22.50M186.59,235.3V233.10M186.59,20.3V22.50M193.33,235.3V233.10M193.33,20.3V22.50M200.07,235.3V233.10M200.07,20.3V22.50M206.81,235.3V233.10M206.81,20.3V22.50M213.56,235.3V231.00M213.56,20.3V24.60M220.30,235.3V233.10M220.30,20.3V22.50M227.04,235.3V233.10M227.04,20.3V22.50M233.78,235.3V233.10M233.78,20.3V22.50M240.52,235.3V233.10M240.52,20.3V22.50M247.27,235.3V233.10M247.27,20.3V22.50M254.01,235.3V233.10M254.01,20.3V22.50M260.75,235.3V233.10M260.75,20.3V22.50M267.49,235.3V233.10M267.49,20.3V22.50M274.24,235.3V233.10M274.24,20.3V22.50M280.98,235.3V231.00M280.98,20.3V24.60M287.72,235.3V233.10M287.72,20.3V22.50M294.46,235.3V233.10M294.46,20.3V22.50M301.20,235.3V233.10M301.20,20.3V22.50M307.95,235.3V233.10M307.95,20.3V22.50M314.69,235.3V233.10M314.69,20.3V22.50M321.43,235.3V233.10M321.43,20.3V22.50M328.17,235.3V233.10M328.17,20.3V22.50M334.92,235.3V233.10M334.92,20.3V22.50M341.66,235.3V233.10M341.66,20.3V22.50M348.40,235.3V231.00M348.40,20.3V24.60M45.0,235.30H51.10M348.4,235.30H342.30M45.0,224.55H48.00M348.4,224.55H345.40M45.0,213.80H48.00M348.4,213.80H345.40M45.0,203.05H48.00M348.4,203.05H345.40M45.0,192.30H51.10M348.4,192.30H342.30M45.0,181.55H48.00M348.4,181.55H345.40M45.0,170.80H48.00M348.4,170.80H345.40M45.0,160.05H48.00M348.4,160.05H345.40M45.0,149.30H51.10M348.4,149.30H342.30M45.0,138.55H48.00M348.4,138.55H345.40M45.0,127.80H48.00M348.4,127.80H345.40M45.0,117.05H48.00M348.4,117.05H345.40M45.0,106.30H51.10M348.4,106.30H342.30M45.0,95.55H48.00M348.4,95.55H345.40M45.0,84.80H48.00M348.4,84.80H345.40M45.0,74.05H48.00M348.4,74.05H345.40M45.0,63.30H51.10M348.4,63.30H342.30M45.0,52.55H48.00M348.4,52.55H345.40M45.0,41.80H48.00M348.4,41.80H345.40M45.0,31.05H48.00M348.4,31.05H345.40M45.0,20.30H51.10M348.4,20.30H342.30" stroke="#909090" stroke-width="1" fill="none"/>
<g font-family="'Liberation Sans', Arial, sans-serif">
<text transform="matrix(1.1646,0,0,1.4203,75.50,12.45)" font-size="10" letter-spacing="1.052" fill="#111" stroke="#111" stroke-width="0.2">AIA</text>
<text transform="matrix(1.2783,0,0,1.4203,125.88,12.45)" font-size="10" letter-spacing="0.701" fill="#111" stroke="#111" stroke-width="0.2">EUVI</text>
<text transform="matrix(1.2783,0,0,1.4203,166.94,12.45)" font-size="10" letter-spacing="0.887" fill="#111" stroke="#111" stroke-width="0.2">TRF</text>
<text transform="matrix(1.4203,0,0,1.4203,208.83,12.45)" font-size="10" letter-spacing="1.064" fill="#111" stroke="#111" stroke-width="0.2">arbitrary</text>
<text transform="matrix(1.4203,0,0,1.4203,282.11,12.45)" font-size="10" letter-spacing="0.875" fill="#111" stroke="#111" stroke-width="0.2">unit</text>
<text transform="matrix(1.7213,0,0,1.4203,105.71,12.45)" font-size="10" fill="#111" stroke="#111" stroke-width="0.2">&amp;</text>
<text transform="matrix(1.5500,0,0,1.6915,202.41,13.25)" font-size="10" fill="#111" stroke="#111" stroke-width="0.2">[</text>
<text transform="matrix(1.5000,0,0,1.6915,311.95,13.25)" font-size="10" fill="#111" stroke="#111" stroke-width="0.2">]</text>
<text transform="matrix(1.3600,0,0,1.2571,21.88,28.65)" font-size="10" fill="#000" stroke="#000" stroke-width="0.18">1.2</text>
<text transform="matrix(1.3600,0,0,1.2571,21.74,67.94)" font-size="10" fill="#000" stroke="#000" stroke-width="0.18">1.0</text>
<text transform="matrix(1.3600,0,0,1.2571,21.74,111.84)" font-size="10" fill="#000" stroke="#000" stroke-width="0.18">0.8</text>
<text transform="matrix(1.3600,0,0,1.2571,21.74,154.64)" font-size="10" fill="#000" stroke="#000" stroke-width="0.18">0.6</text>
<text transform="matrix(1.3600,0,0,1.2571,21.60,197.79)" font-size="10" fill="#000" stroke="#000" stroke-width="0.18">0.4</text>
<text transform="matrix(1.3600,0,0,1.2571,21.88,235.29)" font-size="10" fill="#000" stroke="#000" stroke-width="0.18">0.2</text>
<text transform="matrix(0.9800,0,0,1.2571,76.11,253.19)" font-size="10" fill="#000" stroke="#000" stroke-width="0.18">1</text>
<text transform="matrix(1.3000,0,0,1.2571,142.21,253.25)" font-size="10" fill="#000" stroke="#000" stroke-width="0.18">2</text>
<text transform="matrix(1.3000,0,0,1.2571,209.88,253.19)" font-size="10" fill="#000" stroke="#000" stroke-width="0.18">3</text>
<text transform="matrix(1.3000,0,0,1.2571,276.93,253.25)" font-size="10" fill="#000" stroke="#000" stroke-width="0.18">4</text>
<text transform="matrix(1.3000,0,0,1.2571,344.23,253.12)" font-size="10" fill="#000" stroke="#000" stroke-width="0.18">5</text>
<text transform="matrix(1.1414,0,0,1.2464,173.07,271.20)" font-size="10" fill="#000" stroke="#000" stroke-width="0.18">Te</text>
<text transform="matrix(1.3246,0,0,1.3511,192.37,271.16)" font-size="10" fill="#000" stroke="#000" stroke-width="0.18">[MK]</text>
<text transform="matrix(0,-1.0588,1.2113,0,10.48,150.53)" font-size="10" fill="#000" stroke="#000" stroke-width="0.18">Q</text>
<text transform="matrix(0,-0.8837,0.7260,0,13.80,141.22)" font-size="10" fill="#000" stroke="#000" stroke-width="0.18">k</text>
<text transform="matrix(0,-1.3938,1.3191,0,10.53,136.14)" font-size="10" fill="#000" stroke="#000" stroke-width="0.18">(Te)</text>
<text transform="matrix(1.0735,0,0,1.1690,77.31,49.78)" font-size="10" fill="#2346c2" stroke="#2346c2" stroke-width="0.2">Q</text>
<text transform="matrix(0.8300,0,0,0.8286,86.09,53.66)" font-size="10" fill="#2346c2" stroke="#2346c2" stroke-width="0.14">171</text>
<text transform="matrix(1.0735,0,0,1.1690,69.21,58.28)" font-size="10" fill="#e9a92c" stroke="#e9a92c" stroke-width="0.12">Q</text>
<text transform="matrix(0.8300,0,0,0.8286,78.09,62.06)" font-size="10" fill="#e9a92c" stroke="#e9a92c" stroke-width="0.1">171</text>
<text transform="matrix(1.0735,0,0,1.1690,117.06,41.23)" font-size="10" fill="#2f9127" stroke="#2f9127" stroke-width="0.2">Q</text>
<text transform="matrix(0.8300,0,0,0.8286,126.45,44.86)" font-size="10" fill="#2f9127" stroke="#2f9127" stroke-width="0.14">195</text>
<text transform="matrix(1.0735,0,0,1.1690,112.66,59.13)" font-size="10" fill="#d6a46c" stroke="#d6a46c" stroke-width="0.12">Q</text>
<text transform="matrix(0.8300,0,0,0.8286,121.50,62.46)" font-size="10" fill="#d6a46c" stroke="#d6a46c" stroke-width="0.1">193</text>
<text transform="matrix(1.0735,0,0,1.1690,136.56,59.13)" font-size="10" fill="#d9a3b3" stroke="#d9a3b3" stroke-width="0.12">Q</text>
<text transform="matrix(0.8300,0,0,0.8286,146.00,62.50)" font-size="10" fill="#d9a3b3" stroke="#d9a3b3" stroke-width="0.1">211</text>
<text transform="matrix(1.0735,0,0,1.1690,157.36,52.33)" font-size="10" fill="#a98f17" stroke="#a98f17" stroke-width="0.12">Q</text>
<text transform="matrix(0.8300,0,0,0.8286,165.79,55.86)" font-size="10" fill="#a98f17" stroke="#a98f17" stroke-width="0.1">284</text>
<text transform="matrix(1.0735,0,0,1.1690,172.66,109.33)" font-size="10" fill="#62a1d8" stroke="#62a1d8" stroke-width="0.03">Q</text>
<text transform="matrix(0.8300,0,0,0.8286,182.07,113.11)" font-size="10" fill="#62a1d8" stroke="#62a1d8" stroke-width="0.03">335</text>
</g>
</svg>
</body></html>
